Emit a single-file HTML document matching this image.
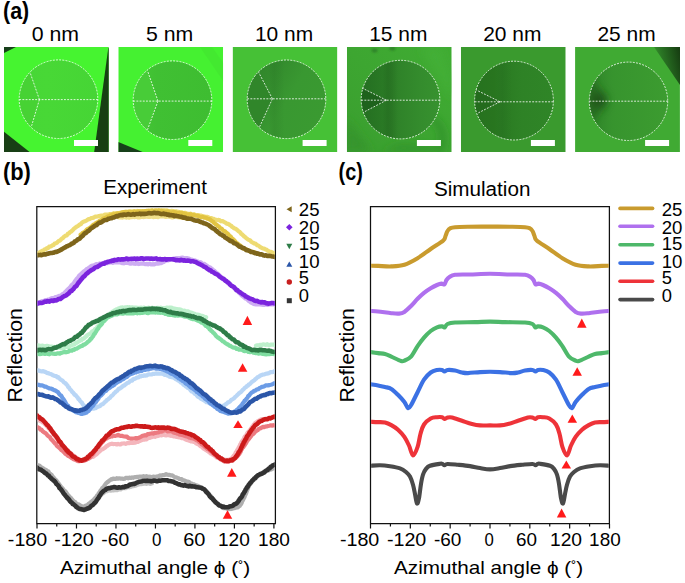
<!DOCTYPE html>
<html><head><meta charset="utf-8"><style>
html,body{margin:0;padding:0;background:#fff;width:685px;height:583px;overflow:hidden;}
body{position:relative;font-family:"Liberation Sans", sans-serif;}
text{font-family:"Liberation Sans", sans-serif;}
</style></head><body>
<svg width="685" height="583" viewBox="0 0 685 583" style="position:absolute;left:0;top:0" font-family='"Liberation Sans", sans-serif'>
<rect width="685" height="583" fill="#ffffff"/>
<defs>
<clipPath id="ic0"><rect x="4.00" y="47" width="104.80" height="105.0"/></clipPath>
<clipPath id="cc0"><circle cx="58.50" cy="99.20" r="39.30"/></clipPath>
<clipPath id="ic1"><rect x="118.30" y="47" width="104.80" height="105.0"/></clipPath>
<clipPath id="cc1"><circle cx="172.50" cy="100.20" r="39.30"/></clipPath>
<clipPath id="ic2"><rect x="232.60" y="47" width="104.80" height="105.0"/></clipPath>
<clipPath id="cc2"><circle cx="286.50" cy="99.30" r="39.30"/></clipPath>
<clipPath id="ic3"><rect x="346.90" y="47" width="104.80" height="105.0"/></clipPath>
<clipPath id="cc3"><circle cx="400.50" cy="99.60" r="39.30"/></clipPath>
<clipPath id="ic4"><rect x="460.90" y="47" width="104.80" height="105.0"/></clipPath>
<clipPath id="cc4"><circle cx="514.00" cy="100.60" r="39.40"/></clipPath>
<clipPath id="ic5"><rect x="575.10" y="47" width="104.80" height="105.0"/></clipPath>
<clipPath id="cc5"><circle cx="628.50" cy="101.30" r="39.20"/></clipPath>
<linearGradient id="in1" x1="0" y1="0" x2="1" y2="0"><stop offset="0" stop-color="#47D636" stop-opacity="1"/><stop offset="0.35" stop-color="#48D836" stop-opacity="1"/><stop offset="1" stop-color="#46D535" stop-opacity="1"/></linearGradient>
<linearGradient id="in2" x1="0" y1="0" x2="1" y2="0"><stop offset="0" stop-color="#46C837" stop-opacity="1"/><stop offset="0.3" stop-color="#40C033" stop-opacity="1"/><stop offset="1" stop-color="#3EBD31" stop-opacity="1"/></linearGradient>
<linearGradient id="in3" x1="0" y1="0" x2="1" y2="0.6"><stop offset="0" stop-color="#2E8229" stop-opacity="1"/><stop offset="0.3" stop-color="#338B2D" stop-opacity="1"/><stop offset="0.6" stop-color="#399831" stop-opacity="1"/><stop offset="1" stop-color="#3A9A31" stop-opacity="1"/></linearGradient>
<linearGradient id="in4" x1="0" y1="0" x2="1" y2="0"><stop offset="0" stop-color="#246E21" stop-opacity="1"/><stop offset="0.3" stop-color="#2A7A25" stop-opacity="1"/><stop offset="0.45" stop-color="#2F8229" stop-opacity="1"/><stop offset="0.75" stop-color="#348C2D" stop-opacity="1"/><stop offset="1" stop-color="#37922F" stop-opacity="1"/></linearGradient>
<linearGradient id="in5" x1="0" y1="0" x2="1" y2="0"><stop offset="0" stop-color="#26721F" stop-opacity="1"/><stop offset="0.25" stop-color="#28751F" stop-opacity="1"/><stop offset="0.33" stop-color="#2A7A22" stop-opacity="1"/><stop offset="0.6" stop-color="#2E8226" stop-opacity="1"/><stop offset="1" stop-color="#2F8527" stop-opacity="1"/></linearGradient>
<linearGradient id="in6" x1="0" y1="0" x2="1" y2="0"><stop offset="0" stop-color="#2F8429" stop-opacity="1"/><stop offset="0.3" stop-color="#37942E" stop-opacity="1"/><stop offset="1" stop-color="#3C9C30" stop-opacity="1"/></linearGradient>
<radialGradient id="spot6" cx="0.5" cy="0.5" r="0.5"><stop offset="0" stop-color="#1A4E17" stop-opacity="0.95"/><stop offset="0.45" stop-color="#1F5C1B" stop-opacity="0.6"/><stop offset="1" stop-color="#2A7A24" stop-opacity="0"/></radialGradient>
<linearGradient id="tr6" x1="0" y1="0.5" x2="1" y2="0.2"><stop offset="0" stop-color="#3A9A2E" stop-opacity="1"/><stop offset="0.35" stop-color="#2A7524" stop-opacity="1"/><stop offset="1" stop-color="#173F12" stop-opacity="1"/></linearGradient>
<linearGradient id="bg4" x1="0" y1="1" x2="1" y2="0"><stop offset="0" stop-color="#3A9E2F" stop-opacity="1"/><stop offset="0.5" stop-color="#3DA631" stop-opacity="1"/><stop offset="1" stop-color="#40AC33" stop-opacity="1"/></linearGradient>
<linearGradient id="band" x1="0" y1="0" x2="1" y2="0"><stop offset="0" stop-color="#1d5a1a" stop-opacity="0"/><stop offset="0.35" stop-color="#1d5a1a" stop-opacity="1"/><stop offset="0.55" stop-color="#1d5a1a" stop-opacity="0.8"/><stop offset="1" stop-color="#1d5a1a" stop-opacity="0"/></linearGradient>
<filter id="blur4" x="-50%" y="-50%" width="200%" height="200%"><feGaussianBlur stdDeviation="4"/></filter>
<filter id="blur1" x="-50%" y="-50%" width="200%" height="200%"><feGaussianBlur stdDeviation="1"/></filter>
</defs>
<g clip-path="url(#ic0)">
<rect x="4.00" y="47" width="104.80" height="105.0" fill="#46F430"/>
<polygon points="4,47 16,47 4,53" fill="#17401a"/>
<polygon points="4,131.8 29.6,152.0 4,152.0" fill="#183f15"/>
<polygon points="108.3,47.8 108.9,47.8 108.9,152.0 94.2,152.0" fill="#173f13"/>
<circle cx="58.50" cy="99.20" r="39.30" fill="url(#in1)"/>
<polygon clip-path="url(#cc0)" points="39.40,99.60 24.36,55.76 9.20,99.60 26.92,141.52" fill="#47D234"/>
<circle cx="58.50" cy="99.20" r="39.30" stroke="#ffffff" stroke-width="0.85" fill="none" stroke-dasharray="1.9 1.3" opacity="0.95"/>
<line x1="19.20" y1="99.60" x2="97.80" y2="99.60" stroke="#ffffff" stroke-width="0.85" fill="none" stroke-dasharray="1.9 1.3" opacity="0.95"/>
<line x1="39.40" y1="99.60" x2="30.00" y2="72.20" stroke="#ffffff" stroke-width="0.85" fill="none" stroke-dasharray="1.9 1.3" opacity="0.95"/>
<line x1="39.40" y1="99.60" x2="31.60" y2="125.80" stroke="#ffffff" stroke-width="0.85" fill="none" stroke-dasharray="1.9 1.3" opacity="0.95"/>
<rect x="74.00" y="140" width="24" height="6" fill="#ffffff"/>
</g>
<g clip-path="url(#ic1)">
<rect x="118.30" y="47" width="104.80" height="105.0" fill="#45F131"/>
<polygon points="118.3,141.9 142.6,152.0 118.3,152.0" fill="#17401a"/>
<polygon points="200,47 212,47 224,64 224,82" fill="#3fd62f" opacity="0.3"/>
<circle cx="172.50" cy="100.20" r="39.30" fill="url(#in2)"/>
<polygon clip-path="url(#cc1)" points="158.00,101.10 141.20,52.30 123.20,101.10 141.20,146.86" fill="#48CC38"/>
<circle cx="172.50" cy="100.20" r="39.30" stroke="#ffffff" stroke-width="0.85" fill="none" stroke-dasharray="1.9 1.3" opacity="0.95"/>
<line x1="133.20" y1="101.10" x2="211.80" y2="101.10" stroke="#ffffff" stroke-width="0.85" fill="none" stroke-dasharray="1.9 1.3" opacity="0.95"/>
<line x1="158.00" y1="101.10" x2="147.50" y2="70.60" stroke="#ffffff" stroke-width="0.85" fill="none" stroke-dasharray="1.9 1.3" opacity="0.95"/>
<line x1="158.00" y1="101.10" x2="147.50" y2="129.70" stroke="#ffffff" stroke-width="0.85" fill="none" stroke-dasharray="1.9 1.3" opacity="0.95"/>
<rect x="188.30" y="140" width="24" height="6" fill="#ffffff"/>
</g>
<g clip-path="url(#ic2)">
<rect x="232.60" y="47" width="104.80" height="105.0" fill="#46C136"/>
<circle cx="286.50" cy="99.30" r="39.30" fill="url(#in3)"/>
<polygon clip-path="url(#cc2)" points="272.40,98.80 250.32,56.24 237.20,98.80 251.92,143.60" fill="#30862A"/>
<rect clip-path="url(#cc2)" x="268.40" y="50" width="16" height="100" fill="url(#band)" opacity="0.12"/>
<circle cx="286.50" cy="99.30" r="39.30" stroke="#ffffff" stroke-width="0.85" fill="none" stroke-dasharray="1.9 1.3" opacity="0.95"/>
<line x1="247.20" y1="98.80" x2="325.80" y2="98.80" stroke="#ffffff" stroke-width="0.85" fill="none" stroke-dasharray="1.9 1.3" opacity="0.95"/>
<line x1="272.40" y1="98.80" x2="258.60" y2="72.20" stroke="#ffffff" stroke-width="0.85" fill="none" stroke-dasharray="1.9 1.3" opacity="0.95"/>
<line x1="272.40" y1="98.80" x2="259.60" y2="126.80" stroke="#ffffff" stroke-width="0.85" fill="none" stroke-dasharray="1.9 1.3" opacity="0.95"/>
<rect x="302.60" y="140" width="24" height="6" fill="#ffffff"/>
</g>
<g clip-path="url(#ic3)">
<rect x="346.90" y="47" width="104.80" height="105.0" fill="url(#bg4)"/>
<g filter="url(#blur1)"><ellipse cx="374.6" cy="50.5" rx="3" ry="2" fill="#2a7a25" opacity="0.8"/><ellipse cx="392.3" cy="48.5" rx="3" ry="2" fill="#2a7a25" opacity="0.8"/></g>
<g filter="url(#blur4)"><path d="M432,118 Q448,130 440,152" stroke="#2A7A25" stroke-width="5" fill="none" opacity="0.6"/><polygon points="346,118 346,152.0 372,152.0" fill="#34922C" opacity="0.8"/><polygon points="380,152.0 400,144 436,146 440,152.0" fill="#2F8A29" opacity="0.6"/><polygon points="420,47 440,47 452,80 452,100" fill="#45B238" opacity="0.6"/></g>
<circle cx="400.50" cy="99.60" r="39.30" fill="url(#in4)"/>
<polygon clip-path="url(#cc3)" points="386.40,100.20 347.52,80.68 351.20,100.20 349.44,119.72" fill="#1E621C"/>
<rect clip-path="url(#cc3)" x="382.40" y="50" width="16" height="100" fill="url(#band)" opacity="0.30"/>
<circle cx="400.50" cy="99.60" r="39.30" stroke="#ffffff" stroke-width="0.85" fill="none" stroke-dasharray="1.9 1.3" opacity="0.95"/>
<line x1="361.20" y1="100.20" x2="439.80" y2="100.20" stroke="#ffffff" stroke-width="0.85" fill="none" stroke-dasharray="1.9 1.3" opacity="0.95"/>
<line x1="386.40" y1="100.20" x2="362.10" y2="88.00" stroke="#ffffff" stroke-width="0.85" fill="none" stroke-dasharray="1.9 1.3" opacity="0.95"/>
<line x1="386.40" y1="100.20" x2="363.30" y2="112.40" stroke="#ffffff" stroke-width="0.85" fill="none" stroke-dasharray="1.9 1.3" opacity="0.95"/>
<rect x="416.90" y="140" width="24" height="6" fill="#ffffff"/>
</g>
<g clip-path="url(#ic4)">
<rect x="460.90" y="47" width="104.80" height="105.0" fill="#3A9A2E"/>
<circle cx="514.00" cy="100.60" r="39.40" fill="url(#in5)"/>
<polygon clip-path="url(#cc4)" points="500.00,101.80 462.08,82.92 464.60,101.80 463.68,120.36" fill="#236B1D"/>
<rect clip-path="url(#cc4)" x="496.00" y="50" width="16" height="100" fill="url(#band)" opacity="0.15"/>
<circle cx="514.00" cy="100.60" r="39.40" stroke="#ffffff" stroke-width="0.85" fill="none" stroke-dasharray="1.9 1.3" opacity="0.95"/>
<line x1="474.60" y1="101.80" x2="553.40" y2="101.80" stroke="#ffffff" stroke-width="0.85" fill="none" stroke-dasharray="1.9 1.3" opacity="0.95"/>
<line x1="500.00" y1="101.80" x2="476.30" y2="90.00" stroke="#ffffff" stroke-width="0.85" fill="none" stroke-dasharray="1.9 1.3" opacity="0.95"/>
<line x1="500.00" y1="101.80" x2="477.30" y2="113.40" stroke="#ffffff" stroke-width="0.85" fill="none" stroke-dasharray="1.9 1.3" opacity="0.95"/>
<rect x="530.90" y="140" width="24" height="6" fill="#ffffff"/>
</g>
<g clip-path="url(#ic5)">
<rect x="575.10" y="47" width="104.80" height="105.0" fill="#40AA33"/>
<polygon points="654,47 680,47 680,85" fill="url(#tr6)"/>
<circle cx="628.50" cy="101.30" r="39.20" fill="url(#in6)"/>
<g clip-path="url(#cc5)"><g filter="url(#blur4)"><polygon points="606,100 588,70 585,100 588,130" fill="#21621C" opacity="0.75"/><ellipse cx="600" cy="100.5" rx="7" ry="9" fill="#1A4E16" opacity="0.8"/></g></g>
<circle cx="628.50" cy="101.30" r="39.20" stroke="#ffffff" stroke-width="0.85" fill="none" stroke-dasharray="1.9 1.3" opacity="0.95"/>
<line x1="589.30" y1="101.20" x2="667.70" y2="101.20" stroke="#ffffff" stroke-width="0.85" fill="none" stroke-dasharray="1.9 1.3" opacity="0.95"/>
<rect x="645.10" y="140" width="24" height="6" fill="#ffffff"/>
</g>
<path d="M36.80,206.70 L275.40,206.70 L275.40,523.70 L36.80,523.70 Z" fill="none" stroke="#111111" stroke-width="1.25"/>
<path d="M370.50,206.70 L609.40,206.70 L609.40,523.70 L370.50,523.70 Z" fill="none" stroke="#111111" stroke-width="1.25"/>
<path d="M37.00,523.70 V528.50 M56.74,523.70 V526.40 M76.48,523.70 V528.50 M96.22,523.70 V526.40 M115.97,523.70 V528.50 M135.71,523.70 V526.40 M155.45,523.70 V528.50 M175.19,523.70 V526.40 M194.93,523.70 V528.50 M214.67,523.70 V526.40 M234.42,523.70 V528.50 M254.16,523.70 V526.40 M273.90,523.70 V528.50" stroke="#111111" stroke-width="1.2"/>
<path d="M370.50,523.70 V528.50 M390.42,523.70 V526.40 M410.33,523.70 V528.50 M430.25,523.70 V526.40 M450.17,523.70 V528.50 M470.08,523.70 V526.40 M490.00,523.70 V528.50 M509.92,523.70 V526.40 M529.83,523.70 V528.50 M549.75,523.70 V526.40 M569.67,523.70 V528.50 M589.58,523.70 V526.40 M609.50,523.70 V528.50" stroke="#111111" stroke-width="1.2"/>
<clipPath id="pb"><rect x="37.4" y="207.3" width="237.4" height="315.8"/></clipPath><clipPath id="pc"><rect x="371.1" y="207.3" width="237.7" height="315.8"/></clipPath>
<g fill="none" stroke-linecap="round" stroke-linejoin="round" clip-path="url(#pb)">
<path d="M118.0,217.2 L118.7,217.1 L119.5,217.5 L120.4,217.4 L121.4,217.3 L122.5,217.6 L123.7,217.1 L124.9,217.2 L126.2,217.6 L127.6,216.9 L129.0,217.7 L130.4,217.1 L131.8,217.1 L133.2,216.8 L134.5,217.1 L135.9,216.8 L137.2,217.0 L138.4,217.5 L139.5,217.4 L140.8,216.6 L142.0,216.7 L143.3,217.1 L144.5,217.0 L145.8,216.7 L147.1,216.5 L148.4,216.9 L149.6,216.9 L150.9,216.6 L152.1,216.5 L153.4,217.1 L154.6,216.8 L155.8,216.9 L156.9,216.6 L158.0,217.2 L159.1,216.6 L160.5,216.5 L161.9,216.4 L163.2,216.4 L164.5,216.5 L165.7,216.9 L166.9,216.7 L168.1,216.4 L169.2,216.7 L170.4,217.0 L171.5,217.3 L172.7,217.3 L173.8,216.7 L175.0,216.7 L176.3,216.8 L177.7,217.2 L179.2,217.4 L180.6,217.6 L182.1,217.8 L183.5,217.6 L184.9,218.2 L186.1,217.8 L187.3,217.9 L188.4,218.3 L189.3,218.7 L190.0,218.5" stroke="#F0E08A" stroke-width="4.2"/>
<path d="M37.2,253.6 L37.9,253.3 L38.7,252.5 L39.8,252.4 L40.9,251.5 L42.2,250.8 L43.4,250.5 L44.7,249.3 L46.0,249.1 L47.0,248.0 L48.0,248.1 L49.1,246.7 L50.2,246.6 L51.3,246.2 L52.4,245.3 L53.6,244.9 L54.7,243.5 L55.8,243.2 L56.9,242.8 L57.9,241.7 L58.9,240.8 L59.9,240.7 L60.9,239.6 L61.8,238.7 L62.8,238.2 L63.8,236.9 L64.8,236.2 L65.8,235.5 L66.8,235.4 L67.8,233.8 L68.8,233.5 L69.8,232.4 L70.8,231.8 L71.8,231.0 L72.8,230.0 L73.8,228.9 L74.8,228.0 L75.8,227.4 L76.8,226.5 L77.8,226.1 L78.8,225.3 L79.9,224.5 L81.0,224.0 L82.1,222.5 L83.2,221.9 L84.4,221.3 L85.5,221.1 L86.6,220.4 L87.6,219.7 L88.7,219.0 L89.7,219.1 L91.1,218.1 L92.5,217.9 L93.8,217.6 L95.1,216.7 L96.3,216.6 L97.6,216.5 L98.9,216.1 L100.2,215.8 L101.3,215.6 L102.5,215.6 L103.7,215.5 L105.0,214.6 L106.4,214.6 L108.0,214.6 L109.0,214.5 L110.1,214.0 L111.3,214.1 L112.5,213.9 L113.7,213.2 L115.0,213.6 L116.2,213.3 L117.5,213.4 L118.8,213.0 L120.1,212.8 L121.4,212.7 L122.6,212.4 L123.8,212.0 L124.9,211.8 L126.1,212.4 L127.2,212.2 L128.3,212.0 L129.4,211.4 L130.6,212.0 L131.8,211.5 L133.0,211.7 L134.3,211.2 L135.7,211.7 L137.2,211.0 L138.2,211.8 L139.4,211.2 L140.5,211.2 L141.7,211.3 L143.0,211.0 L144.2,211.2 L145.5,211.2 L146.9,210.7 L148.2,211.3 L149.5,210.8 L150.8,210.4 L152.1,210.3 L153.4,211.0 L154.6,210.9 L155.8,210.6 L157.0,211.0 L158.1,210.2 L159.1,210.2 L160.7,210.6 L162.1,210.6 L163.4,210.3 L164.6,210.4 L165.8,211.1 L166.9,210.3 L168.1,211.0 L169.3,211.0 L170.5,211.0 L171.8,210.9 L173.2,211.0 L174.3,211.4 L175.4,211.7 L176.6,211.4 L177.8,211.9 L179.0,211.9 L180.2,212.7 L181.5,212.3 L182.7,212.8 L184.0,213.3 L185.3,212.8 L186.5,213.7 L187.8,213.6 L189.0,214.1 L190.3,213.6 L191.5,214.4 L192.7,214.7 L194.0,214.1 L195.2,215.1 L196.5,215.4 L197.7,215.2 L199.0,215.3 L200.2,215.8 L201.5,215.7 L202.7,216.5 L203.9,216.4 L205.1,217.1 L206.3,216.8 L207.5,216.9 L208.6,217.4 L209.7,218.2 L211.1,218.1 L212.4,218.5 L213.7,218.8 L215.0,219.5 L216.2,219.8 L217.4,220.2 L218.7,219.9 L219.8,220.3 L221.0,221.3 L222.1,221.1 L223.2,221.4 L224.3,222.1 L225.5,222.6 L226.7,223.7 L227.9,223.9 L229.0,224.2 L230.0,225.2 L231.1,225.6 L232.1,226.9 L233.2,227.5 L234.2,228.3 L235.3,228.7 L236.3,229.2 L237.3,230.1 L238.3,231.1 L239.3,231.6 L240.3,232.5 L241.2,233.9 L242.2,234.4 L243.2,235.4 L244.2,236.5 L245.2,237.1 L246.2,238.2 L247.2,238.8 L248.2,239.6 L249.2,240.0 L250.2,240.4 L251.2,241.7 L252.2,242.4 L253.2,242.8 L254.2,243.5 L255.2,243.5 L256.2,244.3 L257.2,245.3 L258.3,245.5 L259.5,246.5 L260.6,247.3 L261.8,247.9 L262.9,248.5 L264.0,248.5 L265.1,249.3 L266.2,249.5 L267.2,250.3 L268.1,250.8 L269.6,251.7 L271.0,251.8 L272.2,252.4 L273.4,252.9 L274.3,253.3 L275.0,253.6" stroke="#EEDB72" stroke-width="4.2"/>
<path d="M80.6,234.7 L81.2,234.4 L81.8,234.1 L82.6,232.9 L83.5,232.6 L84.5,231.9 L85.5,231.1 L86.6,229.8 L87.8,228.9 L88.9,228.7 L90.1,227.7 L91.2,226.7 L92.3,225.9 L93.4,224.6 L94.4,224.6 L95.4,223.4 L96.4,223.0 L97.4,222.3 L98.5,221.8 L99.5,220.9 L100.6,220.3 L101.6,220.1 L102.7,219.0 L103.8,218.5 L104.8,218.1 L105.9,217.8 L107.0,217.0 L108.0,216.3 L109.2,216.0 L110.4,215.3 L111.7,215.4 L112.9,214.3 L114.1,214.3 L115.3,214.1 L116.5,213.7 L117.7,213.3 L118.9,213.6 L120.2,213.2 L121.4,212.7 L122.6,212.3 L123.8,212.0 L125.0,212.1 L126.1,211.7 L127.2,211.9 L128.3,211.8 L129.4,211.9 L130.6,211.7 L131.8,212.0 L133.0,211.8 L134.3,211.6 L135.7,212.1 L137.2,212.2 L138.2,211.3 L139.3,211.9 L140.4,211.5 L141.5,211.5 L142.6,211.3 L143.8,211.7 L145.0,211.2 L146.2,211.1 L147.4,211.0 L148.7,210.7 L150.0,211.5 L151.2,211.4 L152.5,210.6 L153.8,211.1 L155.1,210.5 L156.4,210.7 L157.7,211.2 L159.0,210.6 L160.2,211.1 L161.4,210.7 L162.7,211.3 L163.9,211.4 L165.2,211.8 L166.5,211.5 L167.9,211.3 L169.2,212.1 L170.5,212.3 L171.9,212.3 L173.2,212.1 L174.5,212.0 L175.8,212.4 L177.1,213.1 L178.3,213.0 L179.5,212.9 L180.7,212.9 L181.9,213.0 L182.9,213.4 L184.0,213.4 L185.5,214.1 L187.0,214.4 L188.4,214.6 L189.8,214.3 L191.1,214.3 L192.3,215.0 L193.5,215.1 L194.7,215.3 L195.8,215.7 L196.9,215.6 L198.0,215.8 L199.0,216.4 L200.0,216.7 L201.5,217.1 L202.9,216.9 L204.2,217.7 L205.4,217.6 L206.6,218.2 L207.7,218.8 L208.8,219.1 L210.0,219.4 L211.0,220.5 L212.0,221.1 L213.0,221.6 L214.0,222.9 L215.0,223.7 L216.0,224.5 L216.9,225.1 L217.9,226.1 L218.9,226.5 L219.9,227.9 L220.9,228.5 L221.9,229.0 L222.9,230.4 L223.9,231.1 L225.0,231.4 L226.0,232.3 L227.0,233.1 L228.0,233.9 L228.9,235.2 L229.8,236.3 L230.7,236.5 L231.6,238.1 L232.6,238.7 L233.5,239.8 L234.4,240.3 L235.3,241.7 L236.2,242.6 L237.1,243.2 L238.1,243.9 L239.1,244.9 L240.1,245.5 L241.1,246.2 L242.1,247.5 L243.1,248.2 L244.1,248.5 L245.2,249.3 L246.2,249.4 L247.5,250.1 L248.8,250.7 L250.3,251.2 L251.7,251.8 L253.0,252.2 L254.2,252.1 L255.2,252.8 L256.0,253.0" stroke="#E2C442" stroke-width="4.2"/>
<path d="M37.2,255.1 L38.0,255.1 L39.0,255.1 L40.2,254.9 L41.6,255.1 L43.1,254.6 L44.6,254.3 L46.0,254.4 L47.1,253.7 L48.3,253.6 L49.5,253.2 L50.7,253.0 L51.9,253.0 L53.2,252.8 L54.4,252.3 L55.7,251.9 L56.9,251.9 L58.0,251.2 L59.1,250.8 L60.2,250.2 L61.3,249.7 L62.3,248.9 L63.4,248.3 L64.5,247.7 L65.6,247.2 L66.7,246.3 L67.8,246.0 L68.8,245.4 L69.8,245.1 L70.8,244.4 L71.8,243.6 L72.8,243.4 L73.8,242.8 L74.8,241.4 L75.8,241.1 L76.8,240.4 L77.8,239.3 L78.8,239.2 L79.8,238.5 L80.8,237.3 L81.8,236.3 L82.8,235.9 L83.8,234.3 L84.7,233.4 L85.7,233.0 L86.7,232.3 L87.7,231.2 L88.7,230.8 L89.7,229.9 L90.7,228.6 L91.7,228.0 L92.7,227.3 L93.7,226.7 L94.7,225.8 L95.7,225.4 L96.7,225.0 L97.7,223.8 L98.7,223.1 L99.7,222.5 L100.7,222.7 L101.9,221.8 L103.1,221.0 L104.3,220.3 L105.5,220.1 L106.8,219.9 L108.0,218.9 L109.2,218.8 L110.4,218.2 L111.6,218.2 L112.8,217.5 L114.0,217.4 L115.1,216.9 L116.3,216.1 L117.5,216.4 L118.7,215.6 L119.9,215.3 L121.2,214.9 L122.6,215.2 L123.7,214.5 L124.8,214.6 L125.9,214.9 L127.1,214.6 L128.3,214.1 L129.5,214.6 L130.7,214.8 L132.0,214.5 L133.2,214.1 L134.5,214.6 L135.9,214.0 L137.2,214.0 L138.4,214.0 L139.6,213.5 L140.9,214.2 L142.1,213.7 L143.5,213.9 L144.8,213.9 L146.1,213.8 L147.4,213.5 L148.7,213.1 L150.1,213.3 L151.3,213.5 L152.6,213.3 L153.8,212.8 L155.0,212.9 L156.3,213.2 L157.6,213.0 L158.9,213.2 L160.1,213.8 L161.3,214.1 L162.5,213.9 L163.7,213.6 L164.9,214.1 L166.0,214.0 L167.2,214.6 L168.4,214.5 L169.6,215.3 L170.8,215.0 L172.0,215.4 L173.2,215.4 L174.5,216.1 L175.7,215.8 L176.9,216.1 L178.1,216.3 L179.3,216.6 L180.5,216.8 L181.8,216.9 L183.0,217.7 L184.2,217.5 L185.4,217.8 L186.7,218.6 L187.9,218.6 L189.2,218.8 L190.5,218.8 L191.7,219.1 L193.0,219.6 L194.2,220.2 L195.4,220.4 L196.6,220.7 L197.7,220.6 L198.8,221.2 L200.2,221.8 L201.5,222.2 L202.7,222.5 L203.9,223.3 L205.1,223.6 L206.2,223.9 L207.3,224.5 L208.5,225.0 L209.7,226.0 L210.7,226.7 L211.7,227.6 L212.7,228.3 L213.7,228.8 L214.7,229.1 L215.7,230.5 L216.7,231.0 L217.7,232.0 L218.7,232.6 L219.7,233.7 L220.7,234.5 L221.8,234.7 L222.9,235.7 L224.0,236.2 L225.1,237.6 L226.1,237.9 L227.2,238.9 L228.3,239.3 L229.4,240.4 L230.5,241.2 L231.6,241.1 L232.7,241.8 L233.8,243.2 L234.9,243.2 L236.0,243.9 L237.1,244.5 L238.2,245.6 L239.3,246.6 L240.4,246.5 L241.5,247.4 L242.6,248.2 L243.8,248.1 L245.0,249.1 L246.2,250.1 L247.4,250.0 L248.7,250.7 L249.9,251.2 L251.1,251.9 L252.3,252.0 L253.5,252.4 L254.7,253.2 L255.9,253.0 L257.2,253.8 L258.4,253.6 L259.6,254.4 L260.9,254.3 L262.1,254.6 L263.3,255.3 L264.5,255.6 L265.9,255.2 L267.4,256.0 L268.9,255.7 L270.4,256.0 L271.9,256.4 L273.1,256.6 L274.2,256.8 L275.0,257.0" stroke="#7E651B" stroke-width="4.6"/>
<path d="M37.2,303.2 L37.9,303.1 L38.9,302.5 L40.0,302.4 L41.2,301.5 L42.6,301.0 L44.0,301.0 L45.5,300.0 L46.9,300.0 L48.3,299.6 L49.6,299.4 L50.8,298.6 L51.9,298.0 L53.1,298.0 L54.3,297.8 L55.5,297.1 L56.7,296.8 L57.9,296.4 L59.0,295.9 L60.2,295.9 L61.3,295.3 L62.4,294.1 L63.4,293.7 L64.3,293.1 L65.3,292.1 L66.2,291.0 L67.2,290.1 L68.1,289.1 L69.0,288.5 L69.9,287.5 L70.7,286.6 L71.6,285.0 L72.5,284.5 L73.3,283.7 L74.2,282.6 L75.0,281.0 L75.8,280.3 L76.6,278.9 L77.3,278.2 L78.1,277.6 L78.9,276.0 L79.7,275.2 L80.5,274.3 L81.4,273.8 L82.4,272.8 L83.3,271.8 L84.3,271.1 L85.3,270.5 L86.3,269.5 L87.3,268.7 L88.3,268.4 L89.4,267.4 L90.5,266.6 L91.7,265.8 L92.8,265.5 L94.0,265.2 L95.2,264.8 L96.3,264.1 L97.5,264.4 L98.7,264.1 L99.9,263.4 L101.2,263.8 L102.4,263.5 L103.7,262.8 L105.0,262.7 L106.3,263.2 L107.6,263.1 L108.9,262.8 L110.3,262.4 L111.6,262.3 L112.8,262.8 L113.9,262.3 L115.1,262.3 L116.3,262.2 L117.6,262.5 L118.8,262.5 L120.0,262.4 L121.3,262.9 L122.5,263.1 L123.7,263.3 L125.0,262.6 L126.2,263.0 L127.5,263.0 L128.7,263.1 L129.9,263.6 L131.1,263.6 L132.4,263.0 L133.7,263.6 L134.9,263.8 L136.2,263.7 L137.5,263.7 L138.8,264.1 L140.1,263.7 L141.3,263.6 L142.6,263.5 L143.8,263.7 L144.9,264.1 L146.0,264.2 L147.1,263.9 L148.1,264.4 L149.6,263.6 L151.0,264.3 L152.3,264.3 L153.5,264.2 L154.6,264.4 L155.7,263.6 L156.8,263.7 L157.9,263.7 L159.1,263.5 L160.3,263.1 L161.4,263.1 L162.6,262.2 L163.7,261.9 L164.8,261.2 L165.9,260.6 L167.1,260.3 L168.3,260.4 L169.6,259.8 L170.8,259.2 L172.0,259.2 L173.3,258.6 L174.6,258.6 L175.9,258.2 L177.2,258.0 L178.5,258.0 L179.8,258.0 L181.1,257.8 L182.4,257.6 L183.7,258.0 L184.9,258.4 L186.2,258.2 L187.5,258.2 L188.8,258.5 L190.0,259.3 L191.3,259.5 L192.6,260.0 L193.8,260.6 L195.1,260.4 L196.3,261.4 L197.4,261.3 L198.6,262.0 L199.8,262.2 L201.0,262.3 L202.1,263.6 L203.3,264.1 L204.5,263.9 L205.6,265.0 L206.8,265.6 L207.9,266.5 L208.9,267.1 L209.8,267.3 L210.8,268.0 L211.7,268.8 L212.7,269.5 L213.7,270.8 L214.6,270.9 L215.5,272.1 L216.5,273.1 L217.4,273.5 L218.3,274.2 L219.1,275.3 L220.0,275.7 L221.1,277.2 L222.1,277.5 L223.1,278.3 L224.1,278.8 L225.1,279.9 L226.0,281.0 L227.0,281.7 L228.0,282.2 L229.0,283.3 L230.0,283.7 L230.9,284.8 L231.7,285.4 L232.6,286.1 L233.5,287.6 L234.3,288.2 L235.2,289.2 L236.1,290.5 L237.0,291.0 L237.9,291.7 L238.9,292.5 L239.8,293.5 L240.8,294.4 L241.7,295.6 L242.7,296.1 L243.6,296.9 L244.6,297.8 L245.6,298.6 L246.6,298.9 L247.6,299.8 L248.7,300.9 L249.7,301.4 L250.6,302.3 L251.6,302.8 L252.6,303.2 L253.5,303.9 L254.8,304.2 L256.1,304.4 L257.3,304.2 L258.5,304.4 L259.7,304.2 L260.9,304.6 L262.1,304.5 L263.3,304.9 L264.5,304.9 L265.9,304.2 L267.4,305.0 L268.9,304.5 L270.4,304.3 L271.9,304.2 L273.1,304.5 L274.2,304.1 L275.0,304.5" stroke="#CDADF2" stroke-width="4.2"/>
<path d="M37.2,303.8 L38.0,303.0 L39.0,303.2 L40.2,302.7 L41.6,303.0 L43.1,302.6 L44.6,301.6 L46.0,301.8 L47.1,301.1 L48.3,301.2 L49.5,301.6 L50.8,300.8 L52.1,300.6 L53.3,301.0 L54.6,300.2 L55.8,300.5 L56.9,300.3 L58.1,299.3 L59.3,298.9 L60.4,299.0 L61.6,298.0 L62.7,297.0 L63.8,296.4 L64.9,295.9 L66.0,295.6 L66.9,294.8 L67.8,293.9 L68.7,293.4 L69.6,292.4 L70.5,291.2 L71.5,291.0 L72.4,289.8 L73.3,289.3 L74.2,287.9 L75.1,286.8 L75.9,286.4 L76.8,285.5 L77.6,284.0 L78.4,282.9 L79.3,281.9 L80.1,280.9 L81.0,279.7 L81.8,278.8 L82.6,277.8 L83.5,276.7 L84.3,276.4 L85.3,275.1 L86.3,273.9 L87.3,273.3 L88.3,272.3 L89.2,271.6 L90.2,271.0 L91.3,270.1 L92.3,269.7 L93.4,269.2 L94.4,268.1 L95.4,267.4 L96.5,267.1 L97.5,266.9 L98.6,266.0 L99.7,265.4 L100.8,264.5 L102.0,264.1 L103.1,263.5 L104.3,263.8 L105.4,262.5 L106.5,262.4 L107.6,261.8 L108.7,261.7 L109.8,261.3 L110.9,261.2 L112.1,260.5 L113.3,260.8 L114.5,259.9 L115.8,260.1 L117.1,259.9 L118.2,259.2 L119.4,259.4 L120.5,259.6 L121.7,259.2 L122.9,259.5 L124.1,259.2 L125.4,258.9 L126.7,258.5 L128.0,259.2 L129.3,259.0 L130.7,258.9 L132.1,258.7 L133.5,258.7 L134.6,258.5 L135.8,259.1 L137.0,258.6 L138.3,258.9 L139.6,258.8 L140.8,258.3 L142.2,258.3 L143.5,259.1 L144.8,258.7 L146.1,258.5 L147.5,258.5 L148.8,258.5 L150.1,258.7 L151.3,258.5 L152.6,258.9 L153.8,258.7 L155.0,258.6 L156.3,258.4 L157.6,259.2 L158.9,259.3 L160.2,259.1 L161.4,259.4 L162.7,259.2 L163.9,259.4 L165.1,259.0 L166.3,259.7 L167.5,259.3 L168.7,259.2 L169.8,259.2 L171.0,259.3 L172.1,259.3 L173.2,259.4 L174.6,259.6 L175.9,260.2 L177.2,260.1 L178.5,260.2 L179.8,260.4 L181.1,259.7 L182.3,260.3 L183.5,260.6 L184.6,260.3 L185.7,260.8 L186.8,260.8 L187.8,260.6 L189.4,260.7 L190.8,261.4 L192.1,261.3 L193.3,261.2 L194.5,261.8 L195.7,262.0 L197.0,262.8 L198.1,263.4 L199.3,264.0 L200.4,264.4 L201.6,265.1 L202.7,265.6 L203.8,266.6 L205.0,267.0 L206.1,267.6 L207.2,268.8 L208.4,269.4 L209.5,270.3 L210.6,270.3 L211.8,271.7 L212.9,272.1 L214.1,272.8 L215.2,273.6 L216.2,274.0 L217.2,274.5 L218.2,275.1 L219.2,276.2 L220.2,277.1 L221.3,277.7 L222.3,278.5 L223.3,278.8 L224.3,279.6 L225.3,280.7 L226.3,280.9 L227.4,282.3 L228.4,282.6 L229.4,283.9 L230.4,285.0 L231.5,285.8 L232.5,286.2 L233.5,286.7 L234.5,287.7 L235.5,288.8 L236.5,290.0 L237.5,290.3 L238.4,291.4 L239.4,291.8 L240.5,292.8 L241.5,293.3 L242.6,294.2 L243.6,294.7 L244.7,295.3 L245.7,296.6 L246.8,296.8 L247.9,297.4 L249.0,298.3 L250.2,298.6 L251.3,299.0 L252.4,299.2 L253.5,300.0 L254.7,300.6 L255.9,301.0 L257.2,300.9 L258.4,301.7 L259.6,301.9 L260.9,302.4 L262.1,302.1 L263.3,302.4 L264.5,302.2 L265.9,303.2 L267.4,303.4 L268.9,303.6 L270.4,303.2 L271.9,302.9 L273.1,303.1 L274.2,303.3 L275.0,303.5" stroke="#7B24DE" stroke-width="4.6"/>
<path d="M37.2,345.3 L37.9,345.3 L38.9,345.5 L40.0,345.9 L41.2,345.8 L42.6,345.6 L44.0,346.3 L45.5,346.2 L46.9,345.9 L48.3,346.1 L49.6,346.8 L50.9,346.5 L52.1,346.6 L53.4,347.3 L54.7,346.9 L56.0,347.4 L57.3,348.0 L58.6,347.7 L59.8,347.7 L61.1,347.8 L62.4,347.6 L63.6,348.0 L64.7,347.8 L65.9,346.8 L67.1,346.7 L68.3,346.9 L69.4,346.3 L70.6,345.7 L71.8,345.0 L72.9,344.6 L74.0,344.6 L75.1,343.8 L76.2,342.8 L77.2,342.6 L78.3,341.7 L79.3,341.2 L80.3,340.4 L81.3,340.2 L82.3,338.9 L83.3,338.8 L84.2,338.1 L85.2,337.2 L86.1,336.4 L87.2,335.3 L88.2,334.6 L89.3,334.0 L90.3,333.7 L91.3,332.5 L92.2,331.4 L93.2,331.1 L94.2,330.5 L95.2,329.0 L96.0,328.7 L96.8,327.7 L97.6,326.5 L98.4,326.1 L99.2,324.5 L100.0,323.9 L100.9,323.0 L101.7,321.6 L102.5,321.0 L103.4,320.2 L104.3,319.1 L105.2,317.9 L106.2,317.1 L107.2,316.5 L108.2,315.7 L109.2,314.7 L110.2,313.3 L111.2,312.7 L112.3,311.7 L113.3,311.4 L114.3,310.4 L115.3,310.1 L116.5,309.2 L117.7,309.0 L118.8,308.3 L120.0,308.0 L121.2,307.5 L122.4,307.4 L123.6,307.9 L124.9,307.3 L126.2,307.3 L127.3,307.2 L128.5,307.3 L129.7,307.2 L131.0,307.5 L132.2,307.3 L133.5,307.5 L134.8,307.5 L136.1,307.6 L137.4,307.8 L138.7,308.1 L140.0,307.8 L141.2,307.7 L142.4,308.2 L143.6,307.6 L144.8,308.0 L146.0,308.0 L147.2,308.1 L148.5,307.7 L149.7,308.1 L151.0,308.2 L152.3,307.7 L153.6,308.6 L155.0,308.0 L156.1,308.0 L157.3,307.9 L158.4,307.9 L159.6,308.3 L160.8,307.7 L162.0,308.3 L163.3,308.0 L164.5,308.2 L165.8,308.0 L167.0,307.6 L168.3,307.8 L169.5,307.6 L170.7,307.6 L172.0,307.9 L173.2,308.6 L174.4,308.5 L175.7,308.9 L176.9,309.2 L178.2,309.4 L179.4,309.4 L180.7,309.5 L181.9,310.4 L183.2,310.8 L184.4,310.6 L185.7,311.4 L186.9,311.3 L188.1,311.4 L189.2,312.0 L190.4,312.8 L191.5,312.7 L192.9,313.3 L194.3,313.7 L195.8,314.5 L197.2,314.5 L198.6,314.8 L199.9,315.2 L201.2,316.0 L202.5,315.8 L203.6,316.3 L204.6,317.2 L205.4,317.0 L206.1,317.3" stroke="#BDF0CC" stroke-width="4.2"/>
<path d="M256.0,345.7 L256.7,345.4 L257.6,345.6 L258.8,345.2 L260.3,344.8 L262.0,344.9 L263.1,344.3 L264.4,344.5 L265.8,344.9 L267.3,344.2 L268.9,345.2 L270.4,344.7 L271.8,344.7 L273.1,344.5 L274.2,344.8 L275.0,344.9" stroke="#BDF0CC" stroke-width="4.2"/>
<path d="M37.2,354.2 L37.9,354.2 L38.8,353.5 L39.9,354.1 L41.0,354.0 L42.3,353.6 L43.7,353.6 L45.1,353.9 L46.6,353.5 L48.0,353.9 L49.4,354.3 L50.8,353.5 L52.0,353.4 L53.2,353.7 L54.6,353.9 L56.0,353.9 L57.3,353.3 L58.6,353.4 L59.8,353.6 L61.0,352.9 L62.3,352.6 L63.5,352.2 L64.7,351.9 L66.0,352.3 L67.2,352.0 L68.4,351.7 L69.5,350.6 L70.7,350.7 L71.9,350.7 L73.1,349.6 L74.3,349.8 L75.4,348.8 L76.6,348.7 L77.7,348.0 L78.8,347.3 L80.0,346.7 L81.1,346.1 L82.3,346.0 L83.4,344.6 L84.5,344.7 L85.6,343.8 L86.6,343.1 L87.7,341.8 L88.7,341.3 L89.7,340.4 L90.5,339.0 L91.2,338.7 L91.9,337.7 L92.7,336.7 L93.4,335.7 L94.1,334.1 L94.8,333.7 L95.4,332.6 L96.1,331.6 L96.8,330.3 L97.5,329.1 L98.2,328.7 L98.9,327.0 L99.7,326.1 L100.5,325.4 L101.3,324.6 L102.1,323.7 L102.9,321.9 L103.7,321.2 L104.6,320.8 L105.4,319.2 L106.2,318.9 L107.1,317.7 L108.0,317.2 L109.1,316.9 L110.2,316.4 L111.4,315.9 L112.5,315.4 L113.7,314.5 L114.9,314.3 L116.2,314.2 L117.5,314.3 L118.9,313.4 L120.0,313.5 L121.1,313.0 L122.3,313.6 L123.5,313.6 L124.7,313.1 L126.0,312.9 L127.2,313.5 L128.5,312.9 L129.8,313.5 L131.0,313.3 L132.3,313.4 L133.5,313.4 L134.7,312.7 L136.0,313.0 L137.2,313.3 L138.5,312.6 L139.8,313.2 L141.0,312.5 L142.3,312.9 L143.5,312.7 L144.7,312.5 L145.9,312.4 L147.0,313.0 L148.1,313.2 L149.5,312.5 L150.8,312.4 L152.1,312.4 L153.3,312.5 L154.4,312.5 L155.6,312.6 L156.8,312.1 L157.9,312.7 L159.1,312.2 L160.4,312.8 L161.7,312.5 L162.9,313.0 L164.1,313.0 L165.4,314.0 L166.7,313.8 L168.1,314.7 L169.6,315.0 L170.7,314.7 L171.8,314.8 L173.0,315.2 L174.2,315.4 L175.4,315.7 L176.6,314.9 L177.9,315.7 L179.2,315.5 L180.5,315.5 L181.7,315.5 L183.0,316.0 L184.2,316.4 L185.4,316.7 L186.7,316.6 L188.0,317.2 L189.3,317.8 L190.6,318.4 L191.8,318.8 L193.1,319.2 L194.3,318.8 L195.5,319.5 L196.7,320.1 L197.8,320.8 L198.8,321.0 L200.1,321.5 L201.2,322.6 L202.2,322.6 L203.2,323.2 L204.2,324.0 L205.1,325.0 L206.0,326.0 L206.9,326.2 L207.9,327.4 L208.8,327.8 L209.7,329.3 L210.6,329.8 L211.4,331.0 L212.3,331.5 L213.2,332.7 L214.1,333.3 L215.1,334.5 L216.0,335.9 L217.0,336.8 L217.9,337.5 L218.9,338.0 L219.9,338.9 L220.9,339.5 L221.9,340.5 L222.9,341.4 L223.9,341.8 L224.9,342.7 L226.0,343.4 L227.0,344.3 L228.0,344.4 L229.2,345.6 L230.4,345.9 L231.7,346.7 L232.9,347.4 L234.1,347.6 L235.3,347.7 L236.6,348.9 L237.8,348.5 L239.0,349.6 L240.2,349.5 L241.4,349.6 L242.5,350.1 L243.6,350.9 L244.8,351.1 L246.0,351.0 L247.2,351.0 L248.5,352.0 L249.9,352.1 L251.0,351.9 L252.2,352.0 L253.4,352.7 L254.6,352.8 L255.9,353.2 L257.2,353.0 L258.5,353.7 L259.8,353.3 L261.1,353.4 L262.3,353.9 L263.4,353.5 L264.5,354.2 L266.1,354.3 L267.7,354.1 L269.2,354.2 L270.7,353.9 L272.0,353.7 L273.2,354.0 L274.2,354.1 L275.0,353.8" stroke="#7FDDA0" stroke-width="4.2"/>
<path d="M37.2,350.5 L38.0,350.3 L38.9,349.7 L40.1,349.7 L41.4,350.2 L42.8,349.7 L44.3,350.1 L45.7,350.1 L47.1,349.5 L48.4,349.1 L49.6,349.2 L51.1,349.3 L52.4,348.8 L53.7,348.1 L55.0,347.5 L56.2,347.6 L57.4,346.8 L58.7,346.4 L59.8,346.0 L61.0,345.1 L62.1,344.7 L63.2,344.1 L64.4,344.3 L65.5,343.5 L66.7,342.3 L67.8,341.8 L69.0,341.0 L70.1,340.8 L71.3,340.0 L72.5,339.5 L73.7,338.9 L74.8,337.5 L75.9,336.8 L77.0,336.7 L78.0,335.5 L79.0,334.8 L80.0,334.2 L81.0,332.9 L81.9,332.7 L82.8,331.2 L83.6,330.7 L84.3,329.7 L85.3,328.4 L86.0,327.3 L86.7,327.0 L87.9,325.9 L88.8,324.7 L89.7,324.6 L90.8,323.9 L92.0,322.9 L93.2,322.4 L94.5,322.0 L95.7,321.4 L97.0,320.7 L98.0,320.8 L99.1,319.9 L100.2,319.0 L101.3,318.5 L102.4,318.0 L103.5,317.4 L104.6,316.9 L105.8,316.3 L106.9,315.7 L108.0,315.1 L109.2,315.0 L110.4,314.3 L111.5,314.3 L112.6,313.2 L113.8,313.0 L115.0,313.0 L116.2,312.4 L117.5,312.0 L118.9,312.2 L120.0,311.4 L121.1,311.6 L122.3,311.1 L123.5,310.9 L124.7,311.3 L126.0,310.8 L127.2,310.6 L128.5,310.3 L129.8,310.0 L131.0,310.3 L132.3,309.9 L133.5,309.9 L134.7,309.9 L136.0,310.1 L137.2,309.9 L138.5,309.5 L139.8,309.7 L141.0,309.5 L142.3,309.7 L143.5,309.5 L144.7,309.0 L145.9,309.1 L147.0,309.0 L148.1,309.0 L149.5,308.9 L150.8,309.3 L152.1,308.6 L153.3,308.9 L154.4,308.7 L155.6,309.1 L156.8,308.7 L157.9,309.3 L159.1,309.1 L160.3,309.8 L161.4,309.5 L162.5,309.9 L163.6,310.3 L164.7,310.2 L165.8,310.7 L167.0,311.3 L168.3,311.7 L169.6,312.1 L170.7,311.8 L171.8,312.6 L173.0,312.9 L174.2,312.9 L175.4,313.3 L176.6,313.4 L177.9,313.4 L179.2,314.0 L180.5,313.8 L181.7,314.1 L183.0,314.1 L184.2,315.0 L185.4,314.8 L186.7,315.4 L187.9,315.3 L189.2,315.9 L190.5,315.8 L191.7,316.6 L193.0,316.4 L194.2,316.9 L195.4,317.2 L196.6,317.9 L197.7,318.2 L198.8,318.1 L200.0,318.2 L201.2,319.1 L202.3,319.3 L203.4,320.7 L204.5,320.6 L205.5,321.6 L206.5,321.9 L207.6,322.9 L208.6,323.2 L209.7,323.5 L210.8,324.3 L211.9,324.6 L213.0,325.4 L214.1,325.5 L215.2,325.9 L216.3,326.9 L217.4,327.4 L218.5,328.1 L219.6,328.2 L220.7,329.3 L221.7,329.8 L222.7,330.6 L223.7,331.9 L224.7,332.3 L225.7,333.1 L226.6,334.2 L227.6,335.3 L228.6,335.5 L229.6,337.0 L230.6,337.4 L231.6,338.6 L232.6,339.2 L233.6,339.4 L234.6,340.5 L235.6,341.6 L236.6,342.3 L237.6,342.2 L238.6,342.8 L239.6,343.8 L240.6,344.5 L241.6,344.8 L242.6,345.2 L243.8,346.7 L245.0,346.6 L246.2,347.6 L247.4,348.0 L248.7,348.4 L249.9,348.9 L251.1,349.6 L252.3,350.1 L253.5,349.9 L254.7,349.9 L255.9,350.3 L257.2,350.2 L258.4,350.4 L259.6,349.9 L260.9,349.8 L262.1,350.1 L263.3,350.2 L264.5,350.2 L265.9,350.5 L267.4,350.7 L268.9,350.6 L270.4,350.9 L271.9,351.5 L273.1,351.7 L274.2,352.0 L275.0,352.0" stroke="#2E7C48" stroke-width="4.6"/>
<path d="M37.2,370.6 L38.0,370.4 L39.1,370.5 L40.3,371.2 L41.7,371.3 L43.2,371.2 L44.7,371.8 L46.0,372.3 L47.1,373.1 L48.3,373.1 L49.5,373.8 L50.6,374.0 L51.8,374.4 L52.9,375.3 L54.0,375.6 L55.1,376.0 L56.2,376.1 L57.3,377.5 L58.3,377.2 L59.2,378.3 L60.2,379.2 L61.3,379.9 L62.4,380.6 L63.2,381.4 L63.9,382.4 L64.8,382.8 L65.6,383.4 L66.4,384.4 L67.3,385.2 L68.1,386.9 L69.0,387.5 L69.8,389.1 L70.7,389.8 L71.5,390.8 L72.3,392.0 L73.2,392.7 L74.1,394.0 L75.0,395.0 L75.8,395.3 L76.7,396.7 L77.6,397.4 L78.4,399.0 L79.2,399.4 L79.9,400.6 L80.6,401.6 L81.7,402.4 L82.6,404.0 L83.5,405.2 L84.3,405.7 L85.1,407.1 L86.1,407.9 L87.2,407.9 L88.4,407.9 L89.7,408.2 L91.0,408.4 L92.2,408.4 L93.4,408.7 L94.7,408.2 L95.9,408.1 L97.1,406.9 L98.5,406.6 L100.0,406.0 L100.9,405.0 L101.8,404.3 L102.8,404.1 L103.8,403.2 L104.8,402.0 L105.8,401.4 L106.9,400.0 L107.9,399.6 L109.0,398.4 L110.0,397.9 L110.9,396.6 L111.8,395.7 L112.6,395.3 L113.4,394.3 L114.3,393.1 L115.1,392.5 L116.0,391.5 L116.9,391.0 L117.9,389.9 L118.9,388.7 L120.0,388.4 L120.9,387.8 L121.9,387.0 L123.0,385.8 L124.1,385.6 L125.2,384.6 L126.4,383.7 L127.5,382.8 L128.7,382.7 L129.8,381.3 L131.0,380.7 L132.1,380.6 L133.1,379.3 L134.1,378.9 L135.0,378.7 L136.4,377.9 L137.6,377.3 L138.7,377.4 L139.8,376.2 L140.8,376.4 L141.9,375.7 L143.1,375.9 L144.5,375.3 L145.6,375.6 L146.7,375.5 L148.0,374.6 L149.3,374.4 L150.6,374.5 L152.0,374.3 L153.3,373.8 L154.6,373.8 L155.9,373.4 L157.1,373.7 L158.1,373.4 L159.1,373.7 L160.9,373.4 L162.2,373.6 L163.3,373.9 L164.5,374.9 L166.0,374.9 L167.0,375.4 L168.2,375.7 L169.3,376.6 L170.6,376.8 L171.8,377.2 L173.1,377.4 L174.4,378.0 L175.7,379.0 L176.9,379.6 L177.9,380.4 L178.9,380.9 L179.9,381.7 L180.9,382.5 L181.8,382.8 L182.8,384.0 L183.8,384.9 L184.8,385.5 L185.8,386.4 L186.8,386.9 L187.8,387.9 L188.8,388.3 L189.8,389.1 L190.8,390.7 L191.8,391.5 L192.8,391.8 L193.8,392.6 L194.8,393.8 L195.8,394.2 L196.8,395.5 L197.8,396.7 L198.8,397.2 L199.9,397.6 L201.0,398.9 L202.1,399.3 L203.2,400.0 L204.3,400.6 L205.3,401.1 L206.4,402.2 L207.5,402.1 L208.6,402.9 L209.7,403.5 L211.0,404.0 L212.3,404.6 L213.6,405.0 L214.9,405.1 L216.3,405.1 L217.5,405.8 L218.7,405.5 L219.8,405.6 L220.7,406.2 L222.5,405.9 L223.5,405.8 L225.0,404.9 L225.9,404.1 L226.8,403.6 L227.9,402.4 L229.0,402.1 L230.2,401.2 L231.3,399.9 L232.5,399.2 L233.6,398.5 L234.6,397.8 L235.5,396.6 L236.5,395.9 L237.4,394.9 L238.4,394.0 L239.3,393.0 L240.3,392.4 L241.2,391.9 L242.2,390.5 L243.1,389.6 L244.1,388.7 L245.0,387.7 L246.0,387.2 L246.9,386.0 L247.9,385.8 L248.8,384.5 L249.8,384.2 L250.7,383.2 L251.7,382.0 L252.6,381.4 L253.6,380.8 L254.5,380.1 L255.5,379.0 L256.4,378.4 L257.4,377.3 L258.3,377.0 L259.3,376.4 L260.5,375.5 L261.8,375.0 L263.1,374.5 L264.3,374.5 L265.6,373.8 L266.8,373.6 L267.9,373.4 L269.3,372.9 L270.6,372.2 L272.0,372.2 L273.2,371.9 L274.2,371.2 L275.0,371.0" stroke="#B9D6F6" stroke-width="4.2"/>
<path d="M37.2,384.4 L38.0,384.8 L39.1,384.8 L40.3,385.4 L41.7,385.3 L43.2,385.7 L44.7,386.6 L46.0,386.6 L47.1,387.4 L48.3,387.9 L49.6,388.5 L50.8,388.6 L51.9,388.8 L53.1,389.7 L54.1,390.2 L55.1,390.4 L56.3,391.1 L57.3,391.7 L58.1,392.3 L59.1,393.8 L60.5,395.4 L61.1,395.5 L61.7,396.6 L62.3,397.7 L62.9,398.5 L63.6,399.4 L64.3,400.6 L65.1,401.7 L65.8,403.3 L66.6,404.4 L67.4,405.6 L68.2,406.0 L69.0,407.5 L69.8,408.4 L70.7,409.1 L71.5,409.3 L72.6,410.3 L73.7,410.7 L74.9,411.5 L76.1,412.5 L77.3,412.4 L78.6,413.0 L79.8,413.3 L81.1,413.9 L82.4,413.8 L83.6,413.4 L84.9,413.1 L86.1,412.8 L86.9,412.1 L87.7,411.4 L88.6,411.1 L89.4,409.9 L90.3,408.8 L91.1,407.6 L91.9,406.8 L92.8,406.0 L93.6,404.8 L94.5,403.3 L95.3,402.8 L96.1,401.7 L96.9,400.1 L97.7,399.6 L98.5,398.4 L99.2,396.9 L100.0,396.1 L100.7,395.8 L101.8,394.7 L102.9,393.5 L103.9,392.1 L104.9,391.2 L105.9,391.0 L106.8,389.7 L107.8,389.0 L108.7,388.2 L109.7,387.8 L110.6,387.1 L111.6,386.2 L112.6,385.9 L113.6,385.3 L114.6,384.7 L115.6,383.2 L116.6,382.9 L117.6,382.1 L118.6,381.5 L119.6,381.4 L120.6,380.7 L121.6,379.4 L122.6,379.4 L123.7,378.8 L124.8,377.9 L125.9,377.2 L127.0,376.9 L128.0,375.8 L129.1,375.0 L130.2,374.3 L131.3,373.8 L132.4,373.7 L133.5,373.2 L134.7,372.5 L135.9,372.5 L137.0,371.3 L138.2,371.6 L139.4,371.3 L140.6,370.9 L141.8,370.9 L143.1,369.8 L144.5,369.9 L145.6,369.8 L146.7,369.5 L147.8,369.2 L149.0,369.3 L150.2,368.6 L151.4,368.6 L152.6,368.2 L153.9,368.0 L155.1,368.2 L156.4,368.7 L157.8,368.6 L159.1,368.5 L160.1,369.0 L161.1,368.9 L162.2,369.5 L163.2,369.7 L164.3,370.1 L165.4,370.7 L166.4,371.2 L167.5,371.7 L168.7,372.0 L169.8,372.8 L170.9,373.7 L172.1,373.9 L173.3,374.4 L174.5,375.1 L175.7,376.2 L176.9,376.9 L177.8,377.5 L178.7,378.4 L179.7,378.5 L180.7,379.7 L181.6,379.9 L182.6,380.9 L183.6,381.4 L184.6,381.9 L185.7,383.4 L186.7,384.2 L187.7,384.2 L188.7,385.6 L189.8,386.4 L190.8,387.4 L191.8,388.1 L192.8,388.5 L193.9,389.3 L194.9,390.1 L195.9,390.8 L196.9,392.1 L197.8,392.1 L198.8,393.3 L199.8,394.3 L200.8,394.7 L201.8,395.4 L202.8,396.7 L203.9,397.2 L204.9,398.7 L205.9,399.1 L206.9,400.0 L207.9,400.6 L208.9,401.8 L209.9,403.0 L210.9,403.8 L211.9,404.4 L212.8,405.4 L213.7,405.7 L214.7,406.8 L215.6,407.2 L216.4,407.7 L217.3,408.9 L218.1,409.1 L218.9,409.7 L220.5,411.0 L222.0,411.4 L223.3,411.8 L224.6,412.3 L225.9,412.8 L227.1,413.1 L228.2,413.7 L229.4,413.5 L230.5,413.4 L231.6,413.2 L232.7,412.9 L233.8,411.9 L234.8,411.4 L235.8,411.0 L236.8,409.9 L237.8,409.3 L238.7,408.2 L239.7,407.0 L240.6,406.3 L241.5,405.2 L242.3,404.2 L243.1,402.9 L243.9,402.1 L244.6,400.8 L245.4,400.2 L246.1,399.2 L246.8,398.5 L247.6,397.5 L248.3,395.8 L249.1,395.7 L249.9,394.4 L250.9,393.3 L251.9,392.4 L253.0,391.9 L254.1,390.8 L255.1,390.7 L256.2,389.9 L257.2,389.3 L258.3,389.2 L259.3,388.2 L260.6,387.6 L261.9,386.9 L263.1,386.7 L264.4,386.2 L265.6,385.4 L266.8,385.3 L267.9,385.4 L269.3,385.1 L270.6,384.8 L272.0,384.4 L273.2,383.8 L274.2,383.2 L275.0,383.4" stroke="#6C9CE6" stroke-width="4.2"/>
<path d="M37.2,394.4 L38.0,394.1 L39.1,394.3 L40.3,394.8 L41.7,394.8 L43.2,395.3 L44.7,395.9 L46.0,396.3 L47.3,396.6 L48.6,396.3 L50.0,397.3 L51.3,397.7 L52.6,397.4 L53.9,398.0 L55.1,399.0 L56.2,399.0 L57.3,399.8 L58.4,400.6 L59.4,401.3 L60.4,402.4 L61.4,402.7 L62.4,403.4 L63.4,404.5 L64.5,405.2 L65.5,406.3 L66.6,406.8 L67.6,407.2 L68.7,408.3 L69.7,408.9 L70.9,408.9 L72.1,409.4 L73.4,409.9 L74.6,410.7 L75.8,410.3 L77.0,410.9 L78.2,410.7 L79.4,410.8 L80.7,410.0 L81.9,410.0 L83.1,409.4 L84.3,409.2 L85.2,408.5 L86.1,408.2 L87.0,407.2 L87.8,406.6 L88.7,405.3 L89.6,404.8 L90.6,403.6 L91.6,402.9 L92.4,402.1 L93.1,400.9 L93.9,399.7 L94.8,398.7 L95.6,397.8 L96.4,397.5 L97.3,396.6 L98.2,395.8 L99.0,394.7 L99.9,393.8 L100.7,393.2 L101.6,391.8 L102.5,390.7 L103.5,390.0 L104.4,389.2 L105.3,388.2 L106.2,387.7 L107.2,386.6 L108.1,386.0 L109.0,385.2 L110.0,384.1 L111.1,383.1 L112.1,382.4 L113.2,382.2 L114.2,381.2 L115.3,380.5 L116.4,379.8 L117.5,379.1 L118.7,378.9 L120.0,378.1 L120.9,377.3 L121.9,376.9 L122.9,376.2 L124.0,375.8 L125.1,374.6 L126.1,374.1 L127.2,373.6 L128.3,372.5 L129.4,371.7 L130.5,372.0 L131.5,370.8 L132.5,370.5 L133.5,370.1 L134.8,369.1 L136.1,369.0 L137.4,368.3 L138.6,367.8 L139.8,367.6 L141.0,367.9 L142.1,367.4 L143.3,367.2 L144.5,366.9 L145.8,366.4 L147.1,366.2 L148.5,366.3 L149.8,365.9 L151.0,366.0 L152.4,366.3 L153.7,366.0 L155.0,365.6 L156.2,366.3 L157.4,366.4 L158.6,366.6 L159.9,366.5 L161.1,366.4 L162.3,366.6 L163.6,367.5 L164.8,367.3 L166.0,368.1 L167.1,368.0 L168.2,368.4 L169.3,368.9 L170.4,369.9 L171.5,370.0 L172.5,371.0 L173.6,371.6 L174.7,371.8 L175.8,372.3 L176.9,373.4 L178.0,373.7 L179.1,374.1 L180.2,375.6 L181.3,375.7 L182.3,376.8 L183.4,377.8 L184.5,378.0 L185.6,379.3 L186.7,379.4 L187.8,380.3 L188.8,381.0 L189.8,382.3 L190.8,383.0 L191.8,383.4 L192.8,384.2 L193.8,385.1 L194.8,386.2 L195.8,387.3 L196.8,388.3 L197.8,388.7 L198.8,389.8 L199.8,390.3 L200.8,391.2 L201.8,392.1 L202.8,393.3 L203.9,394.2 L204.9,394.4 L205.9,395.4 L206.9,396.2 L207.8,397.1 L208.8,398.1 L209.7,399.1 L210.8,399.5 L211.9,401.0 L212.9,401.1 L213.9,402.3 L214.9,403.3 L215.9,403.8 L216.9,405.0 L217.9,405.5 L218.9,405.7 L220.1,406.9 L221.2,407.4 L222.4,408.6 L223.6,408.7 L224.7,409.4 L225.9,410.4 L226.9,410.7 L228.0,411.3 L229.3,412.1 L230.6,412.4 L231.8,412.8 L232.9,412.8 L234.1,412.2 L235.3,412.5 L236.5,412.6 L237.7,412.2 L238.9,411.2 L240.2,411.5 L241.4,410.5 L242.6,409.5 L243.5,409.3 L244.4,408.6 L245.3,407.2 L246.1,406.5 L247.0,405.6 L248.0,404.6 L248.9,403.6 L250.0,402.2 L251.0,401.6 L252.0,401.3 L253.1,400.4 L254.3,399.4 L255.4,398.7 L256.6,398.7 L257.7,397.8 L258.9,396.9 L260.0,396.6 L261.3,395.9 L262.6,395.4 L264.0,395.1 L265.3,395.0 L266.6,394.1 L267.9,394.0 L269.0,393.3 L270.0,393.1 L271.7,393.2 L273.1,392.7 L274.2,392.6 L275.0,392.4" stroke="#2B56A8" stroke-width="4.6"/>
<path d="M37.2,418.7 L37.9,419.6 L38.8,419.9 L39.9,420.8 L41.1,420.8 L42.4,422.3 L43.7,422.4 L45.0,424.2 L45.7,424.4 L46.4,425.9 L47.1,426.0 L47.9,427.3 L48.6,428.3 L49.4,428.7 L50.2,430.2 L51.0,430.7 L51.8,431.7 L52.6,432.8 L53.4,434.4 L54.2,434.8 L55.0,436.3 L55.8,437.1 L56.5,437.7 L57.3,439.1 L58.1,439.9 L58.9,441.1 L59.6,442.2 L60.4,442.9 L61.2,443.5 L62.0,444.8 L62.8,445.4 L63.6,446.2 L64.4,447.5 L65.2,448.4 L66.0,448.8 L67.0,449.6 L68.0,450.6 L69.1,452.3 L70.1,452.6 L71.2,453.4 L72.2,454.4 L73.2,455.7 L74.2,455.8 L75.2,456.7 L76.1,457.6 L77.0,458.0 L78.5,459.2 L79.9,459.3 L81.1,460.0 L82.4,460.1 L83.7,459.6 L85.0,459.4 L86.2,459.6 L87.4,458.9 L88.6,458.6 L89.9,458.0 L91.1,457.1 L92.4,457.0 L93.6,456.5 L94.6,455.5 L95.5,455.0 L96.5,454.3 L97.4,453.4 L98.4,452.1 L99.3,451.7 L100.3,450.8 L101.2,449.6 L102.2,449.4 L103.3,448.8 L104.3,448.1 L105.4,447.5 L106.5,446.1 L107.5,445.7 L108.6,444.9 L109.6,444.4 L110.7,444.0 L111.9,443.7 L113.1,444.1 L114.4,444.0 L115.6,444.0 L116.8,444.5 L118.1,443.9 L119.3,444.4 L120.5,444.4 L121.8,443.6 L123.1,443.5 L124.3,443.4 L125.6,443.9 L126.8,443.3 L127.9,442.9 L129.2,443.1 L130.2,442.9 L131.3,443.0 L132.8,442.9 L135.0,442.6 L135.9,442.4 L136.8,441.7 L137.9,442.0 L139.0,441.3 L140.2,440.8 L141.4,440.2 L142.7,439.7 L144.0,439.7 L145.3,439.2 L146.7,439.3 L148.0,438.0 L149.3,438.0 L150.5,437.4 L151.8,437.1 L152.9,436.7 L154.0,436.5 L155.0,436.9 L156.5,436.2 L157.9,435.9 L159.2,435.5 L160.4,434.9 L161.5,435.4 L162.7,434.7 L163.8,434.8 L164.9,435.2 L166.1,435.4 L167.4,435.0 L168.5,435.2 L169.7,435.4 L170.9,435.8 L172.1,435.2 L173.3,436.3 L174.5,436.3 L175.7,436.6 L176.9,436.9 L178.2,437.1 L179.4,437.5 L180.6,437.4 L181.8,438.1 L183.0,438.1 L184.2,438.7 L185.4,439.3 L186.6,439.9 L187.8,440.2 L189.0,440.6 L190.2,440.9 L191.4,441.5 L192.6,441.1 L193.8,442.0 L195.0,442.2 L196.2,443.4 L197.2,443.9 L198.3,444.0 L199.3,445.2 L200.4,446.1 L201.5,446.4 L202.5,447.5 L203.6,448.7 L204.6,449.2 L205.7,449.8 L206.7,450.5 L207.7,451.1 L208.7,451.9 L209.7,452.5 L210.6,453.5 L211.9,453.9 L213.1,454.9 L214.3,455.4 L215.4,456.3 L216.6,457.4 L217.7,457.2 L218.8,457.6 L219.9,458.3 L220.9,458.3 L222.0,458.6 L223.3,459.3 L224.6,459.8 L225.8,459.9 L227.0,460.1 L228.2,459.8 L229.4,459.6 L230.7,458.8 L232.0,458.1 L232.6,457.4 L233.2,456.5 L233.8,455.6 L234.4,455.2 L235.1,454.0 L235.7,452.6 L236.3,452.0 L237.0,450.3 L237.6,449.4 L238.2,448.6 L238.9,447.0 L239.5,446.2 L240.2,444.4 L240.9,443.6 L241.5,442.0 L242.2,441.1 L242.8,440.4 L243.5,439.3 L244.2,437.8 L244.9,436.4 L245.7,436.2 L246.4,434.9 L247.1,433.2 L247.9,432.2 L248.6,431.9 L249.4,430.8 L250.2,429.6 L250.9,428.6 L251.6,427.7 L252.4,426.5 L253.1,425.9 L253.8,424.6 L254.5,423.9 L255.2,422.9 L255.9,422.8 L257.2,421.6 L258.5,420.8 L259.9,420.0 L261.2,419.4 L262.4,419.1 L263.6,419.0 L264.6,419.3 L265.5,418.6 L266.2,418.5" stroke="#F4B6BC" stroke-width="4.2"/>
<path d="M37.2,427.2 L37.8,427.3 L38.6,427.6 L39.5,428.4 L40.5,429.6 L41.7,429.9 L42.8,431.4 L44.0,432.3 L45.2,432.9 L46.3,433.8 L47.4,435.4 L48.3,436.1 L49.1,436.5 L50.0,437.3 L50.8,438.9 L51.7,439.9 L52.5,440.3 L53.4,441.7 L54.3,442.6 L55.1,443.5 L56.0,444.2 L56.8,445.7 L57.7,446.6 L58.6,447.2 L59.6,448.1 L60.5,449.0 L61.4,450.1 L62.4,450.6 L63.3,451.6 L64.3,452.5 L65.2,453.6 L66.1,454.3 L67.1,454.9 L68.0,455.9 L69.1,456.0 L70.3,457.1 L71.4,457.9 L72.5,458.5 L73.7,459.5 L74.8,459.5 L75.9,460.0 L77.1,460.8 L78.2,461.1 L79.5,461.1 L80.8,461.0 L82.1,460.9 L83.3,461.0 L84.6,460.4 L85.9,460.0 L87.2,459.2 L88.5,458.5 L89.3,457.6 L90.1,457.5 L90.9,456.4 L91.8,455.2 L92.6,454.6 L93.4,453.4 L94.2,451.7 L95.0,451.1 L95.8,450.0 L96.6,448.6 L97.4,447.4 L98.1,446.8 L98.8,446.4 L99.9,445.2 L100.9,443.8 L101.9,442.5 L102.8,441.8 L103.7,440.6 L104.6,439.5 L105.5,438.8 L106.4,438.6 L107.6,437.7 L108.7,437.2 L109.8,436.9 L110.9,436.0 L112.1,436.4 L113.3,435.6 L114.4,435.8 L115.6,435.8 L116.9,435.5 L118.1,434.9 L119.4,435.5 L120.7,435.9 L121.9,435.8 L123.2,436.2 L124.5,436.5 L125.8,436.7 L127.1,436.7 L128.3,437.9 L129.5,438.3 L130.5,438.6 L132.1,438.7 L133.2,438.5 L135.0,438.5 L136.0,438.0 L137.1,438.4 L138.3,437.9 L139.6,437.5 L141.0,436.7 L142.4,435.9 L143.7,435.7 L145.0,435.2 L146.2,435.4 L147.6,434.2 L148.8,434.1 L150.0,433.7 L151.1,433.5 L152.3,433.3 L153.6,433.6 L155.0,432.7 L156.1,432.9 L157.2,432.5 L158.4,432.5 L159.6,431.4 L160.9,431.7 L162.1,431.5 L163.4,430.6 L164.7,430.7 L166.1,430.7 L167.4,431.3 L168.5,431.3 L169.7,431.5 L170.9,431.5 L172.1,431.5 L173.3,432.4 L174.5,432.8 L175.7,432.7 L176.9,433.6 L178.2,433.6 L179.4,434.4 L180.6,434.8 L181.8,435.0 L183.0,435.3 L184.2,435.6 L185.4,436.2 L186.7,436.4 L187.9,436.7 L189.1,437.6 L190.3,437.7 L191.6,438.2 L192.7,438.3 L193.9,438.7 L195.1,439.3 L196.2,440.0 L197.3,440.5 L198.4,441.1 L199.5,442.4 L200.5,442.6 L201.6,444.2 L202.6,444.8 L203.6,445.6 L204.6,446.7 L205.6,447.3 L206.6,448.2 L207.6,449.0 L208.5,449.3 L209.5,450.3 L210.5,451.1 L211.5,451.7 L212.5,453.0 L213.4,453.1 L214.4,454.6 L215.3,454.8 L216.2,455.8 L217.1,456.6 L217.9,457.4 L218.8,457.8 L220.1,458.8 L221.3,459.8 L222.5,460.2 L223.6,461.0 L224.7,461.6 L225.9,461.8 L227.1,462.0 L228.2,462.0 L229.3,461.2 L230.4,461.0 L231.6,460.7 L232.7,460.7 L233.8,459.3 L234.9,458.6 L236.0,457.8 L236.7,456.9 L237.4,456.2 L238.0,455.6 L238.7,454.4 L239.3,454.0 L239.9,452.8 L240.6,451.9 L241.2,450.0 L241.9,449.1 L242.6,447.7 L243.3,447.3 L244.0,446.0 L244.7,445.2 L245.4,443.9 L246.1,443.1 L246.9,441.4 L247.6,440.5 L248.4,439.5 L249.1,438.7 L249.9,437.6 L250.7,436.7 L251.5,435.3 L252.2,434.6 L253.0,434.1 L253.8,433.4 L254.8,432.1 L255.8,431.4 L256.8,430.5 L257.9,430.1 L258.9,428.7 L259.9,428.5 L261.0,428.0 L262.0,427.4 L263.0,426.9 L264.1,427.2 L265.3,426.6 L266.7,426.4 L268.1,426.0 L269.5,425.7 L270.9,425.3 L272.2,425.7 L273.3,425.2 L274.3,425.5 L275.0,425.5" stroke="#EC7A80" stroke-width="4.2"/>
<path d="M37.2,415.7 L37.8,416.8 L38.7,417.4 L39.6,417.4 L40.7,418.8 L41.9,419.2 L43.1,420.3 L44.2,421.5 L45.3,422.7 L46.1,423.7 L46.9,424.8 L47.7,425.3 L48.6,426.3 L49.4,427.7 L50.2,428.2 L51.0,429.6 L51.9,431.1 L52.7,432.0 L53.5,433.0 L54.3,434.4 L55.0,434.9 L55.8,435.9 L56.5,436.8 L57.3,437.9 L58.0,439.0 L58.8,440.6 L59.5,441.7 L60.3,442.0 L61.0,442.9 L61.8,444.7 L62.6,445.3 L63.4,446.2 L64.3,447.2 L65.1,448.3 L65.9,449.2 L66.7,450.6 L67.5,450.7 L68.4,452.2 L69.2,452.7 L70.0,453.3 L71.0,454.1 L72.1,455.7 L73.2,456.6 L74.2,456.8 L75.3,457.6 L76.3,458.7 L77.3,459.3 L78.2,459.4 L79.5,460.4 L80.7,460.2 L81.8,460.7 L83.0,459.9 L84.4,459.3 L85.2,459.4 L86.1,458.4 L87.0,458.2 L87.9,456.7 L88.8,456.6 L89.8,455.1 L90.8,454.2 L91.8,453.8 L92.7,452.5 L93.6,451.8 L94.4,450.6 L95.2,449.8 L96.0,449.0 L96.8,447.5 L97.6,447.1 L98.3,445.8 L99.1,444.8 L99.9,443.4 L100.7,442.7 L101.4,441.8 L102.2,440.5 L103.1,440.2 L103.9,439.3 L104.8,438.1 L105.6,437.2 L106.5,435.8 L107.3,435.6 L108.1,434.9 L109.0,434.0 L109.8,433.2 L110.7,432.2 L111.9,431.3 L113.2,430.9 L114.5,430.2 L115.7,429.7 L117.0,429.3 L118.2,429.2 L119.3,429.2 L120.7,428.2 L121.9,427.8 L123.2,427.7 L124.5,427.3 L126.2,426.9 L127.3,426.9 L128.6,426.3 L129.9,426.6 L131.3,426.7 L132.7,426.3 L134.2,426.2 L135.5,425.9 L136.8,425.8 L138.0,426.0 L139.6,426.2 L141.0,426.4 L142.3,426.3 L143.6,426.7 L144.8,426.3 L146.2,426.7 L147.4,426.7 L148.6,427.0 L149.7,427.1 L150.9,427.7 L152.2,427.9 L153.5,427.8 L155.0,427.4 L156.1,427.5 L157.3,427.8 L158.5,427.4 L159.7,427.7 L161.0,427.6 L162.3,427.6 L163.6,427.5 L164.9,428.0 L166.1,428.0 L167.4,427.6 L168.6,427.8 L169.9,428.1 L171.1,428.9 L172.3,428.7 L173.6,428.9 L174.8,429.0 L176.0,429.7 L177.2,430.2 L178.5,430.6 L179.7,431.2 L180.9,431.5 L182.2,431.8 L183.5,432.1 L184.8,432.2 L186.0,433.0 L187.3,433.2 L188.5,433.7 L189.8,434.1 L190.9,434.2 L192.1,435.3 L193.2,435.2 L194.3,435.9 L195.3,436.9 L196.4,437.5 L197.4,438.1 L198.4,438.8 L199.4,439.8 L200.4,440.2 L201.4,441.7 L202.4,441.9 L203.3,442.6 L204.3,443.5 L205.3,444.8 L206.2,445.9 L207.2,446.8 L208.2,447.0 L209.1,448.3 L210.0,449.1 L211.0,449.6 L211.8,450.9 L212.7,451.2 L213.7,452.8 L214.7,453.7 L215.7,454.5 L216.6,455.2 L217.5,456.1 L218.4,457.0 L219.3,457.3 L220.1,458.4 L220.9,458.3 L222.3,459.2 L223.5,460.2 L224.6,460.6 L225.8,460.7 L227.1,460.6 L228.3,460.7 L229.5,460.6 L230.8,460.1 L232.0,460.3 L233.2,459.1 L234.3,458.7 L235.1,457.9 L235.9,456.7 L236.6,456.0 L237.2,455.0 L237.9,454.1 L238.6,452.4 L239.4,451.5 L239.9,450.6 L240.4,449.8 L241.0,448.2 L241.5,447.1 L242.0,446.4 L242.6,444.6 L243.2,444.1 L243.7,442.3 L244.3,441.8 L245.0,440.3 L245.6,439.2 L246.2,438.5 L246.8,436.8 L247.5,435.7 L248.2,434.9 L248.9,434.1 L249.6,432.3 L250.3,431.9 L251.0,430.7 L251.7,429.6 L252.4,428.9 L253.1,427.8 L253.8,427.2 L254.8,425.6 L255.8,424.8 L256.8,424.2 L257.8,423.4 L258.8,422.2 L259.9,421.5 L261.0,421.0 L262.1,420.7 L263.3,419.9 L264.7,419.3 L266.2,419.2 L267.6,419.1 L269.0,418.0 L270.3,418.4 L271.5,417.8 L272.4,417.4 L274.3,416.6 L275.0,417.0" stroke="#CC1A1A" stroke-width="4.6"/>
<path d="M84.0,510.1 L84.7,509.2 L85.7,508.6 L86.9,508.1 L88.2,507.4 L89.6,506.9 L90.8,505.9 L92.0,505.0 L92.9,503.8 L93.8,503.1 L94.7,502.2 L95.6,501.3 L96.4,500.4 L97.3,498.7 L98.1,497.9 L99.0,497.3 L100.0,496.5 L100.9,494.9 L101.8,493.9 L102.8,493.6 L103.8,492.8 L104.8,491.7 L106.0,491.2 L107.1,491.2 L108.2,490.5 L109.4,490.3 L110.7,490.7 L112.0,490.5 L113.3,490.5 L114.6,490.0 L116.0,490.1 L117.1,490.2 L118.3,489.4 L119.5,489.1 L120.7,489.5 L121.9,488.5 L123.1,488.3 L124.3,488.1 L125.6,488.2 L126.8,487.4 L128.0,487.1 L129.2,487.3 L130.4,487.0 L131.6,486.5 L132.8,486.0 L134.0,486.1 L135.2,485.7 L136.4,485.2 L137.6,484.7 L138.8,484.4 L140.0,484.2 L141.3,484.1 L142.6,483.9 L144.0,483.7 L145.4,483.6 L146.8,483.8 L148.1,483.5 L149.3,483.2 L150.4,483.9 L151.3,483.5 L152.0,483.5" stroke="#C4C4C4" stroke-width="4.2"/>
<path d="M37.2,465.0 L37.9,465.3 L38.8,465.5 L39.8,466.0 L41.0,467.3 L42.3,467.8 L43.6,468.5 L44.9,469.6 L46.2,470.0 L47.4,471.4 L48.3,471.3 L49.1,472.9 L50.0,473.6 L50.8,474.4 L51.7,474.9 L52.5,476.6 L53.4,477.2 L54.3,478.5 L55.1,479.3 L56.0,480.1 L56.8,481.2 L57.7,482.3 L58.5,483.5 L59.3,484.4 L60.1,485.6 L60.9,486.7 L61.8,487.6 L62.6,488.3 L63.4,489.5 L64.2,490.5 L65.0,491.0 L65.8,491.8 L66.5,492.9 L67.3,494.1 L68.0,495.1 L69.0,496.1 L70.0,497.4 L70.9,497.9 L71.8,499.1 L72.7,500.2 L73.5,501.1 L74.4,502.0 L75.3,502.1 L76.2,503.4 L77.4,504.2 L78.5,504.3 L79.6,505.1 L80.7,505.7 L81.9,506.2 L83.1,506.5 L84.4,506.4 L85.4,505.6 L86.4,505.7 L87.4,505.1 L88.5,503.9 L89.5,503.4 L90.6,502.2 L91.7,501.5 L92.7,500.7 L93.7,499.7 L94.7,498.5 L95.5,497.7 L96.3,496.9 L97.1,495.5 L97.9,495.3 L98.6,493.4 L99.3,492.6 L100.1,491.3 L100.8,490.3 L101.5,489.6 L102.3,488.1 L103.0,487.4 L103.9,486.5 L104.8,485.1 L105.6,483.9 L106.4,483.1 L107.3,482.1 L108.2,481.9 L109.1,480.6 L110.1,480.2 L111.2,479.2 L112.2,479.4 L113.3,478.5 L114.4,478.8 L115.5,478.9 L116.7,478.2 L117.9,478.7 L119.2,478.3 L120.6,478.6 L122.0,478.7 L123.5,478.9 L124.6,478.7 L125.7,477.9 L126.9,477.8 L128.2,478.3 L129.4,477.6 L130.8,478.0 L132.1,477.4 L133.4,477.8 L134.8,477.0 L136.1,477.1 L137.4,476.8 L138.6,476.8 L139.9,476.5 L141.0,476.6 L142.1,476.9 L143.6,476.2 L145.1,476.7 L146.4,476.2 L147.7,476.7 L148.9,476.8 L150.1,476.7 L151.3,477.0 L152.5,477.0 L153.8,476.5 L155.0,477.2 L156.3,476.5 L157.5,476.4 L158.7,476.3 L159.9,475.4 L161.1,475.7 L162.3,475.2 L163.5,475.2 L164.8,474.9 L166.1,474.2 L167.4,474.7 L168.5,474.9 L169.7,474.9 L170.9,475.4 L172.1,475.3 L173.3,476.0 L174.5,477.0 L175.7,477.4 L176.9,477.6 L178.2,478.1 L179.4,478.9 L180.6,479.2 L181.8,479.2 L183.0,480.4 L184.2,480.4 L185.5,481.0 L186.8,481.9 L188.0,481.5 L189.3,482.2 L190.5,483.3 L191.7,483.5 L192.9,484.2 L194.0,484.4 L195.1,485.0 L196.2,485.3 L197.5,485.7 L198.8,486.3 L199.9,487.0 L201.1,488.0 L202.1,487.9 L203.2,489.3 L204.3,489.2 L205.4,490.6 L206.5,491.1 L207.3,492.3 L208.1,493.4 L208.9,493.9 L209.7,495.0 L210.5,495.7 L211.3,496.6 L212.0,497.7 L212.8,498.7 L213.6,499.9 L214.4,500.9 L215.2,502.4 L216.0,502.6 L216.8,503.1 L217.9,504.5 L219.1,505.4 L220.2,506.1 L221.3,506.5 L222.5,507.5 L223.6,508.1 L224.8,507.8 L225.9,508.3 L227.1,508.7 L228.3,509.2 L229.6,508.7 L230.9,509.1 L232.2,508.7 L233.5,508.3 L234.7,508.1 L235.9,507.6 L237.0,507.5 L238.0,507.4 L238.9,506.1 L239.7,506.0 L240.3,504.8 L241.0,504.2 L241.6,503.1 L242.1,501.4 L242.7,500.6 L243.3,499.3 L244.0,498.0 L244.5,497.2 L244.9,495.9 L245.4,494.9 L245.8,494.1 L246.2,493.0 L246.7,491.6 L247.1,490.3 L247.6,489.3 L248.1,487.7 L248.6,486.9 L249.2,485.3 L249.8,484.5 L250.5,483.4 L251.2,482.9 L252.0,481.4 L252.8,480.8 L253.7,479.9 L254.5,478.6 L255.4,478.3 L256.4,477.6 L257.3,476.5 L258.3,475.8 L259.2,475.4 L260.2,474.7 L261.2,473.6 L262.1,473.0 L263.3,472.0 L264.5,471.5 L265.9,471.3 L267.2,470.3 L268.6,470.4 L269.9,469.7 L271.2,469.4 L272.4,468.6 L273.4,468.4 L274.3,468.5 L275.0,468.0" stroke="#AEAEAE" stroke-width="4.2"/>
<path d="M37.2,467.7 L37.8,468.4 L38.7,469.0 L39.6,469.5 L40.7,469.6 L41.9,470.6 L43.1,471.2 L44.2,472.2 L45.3,473.2 L46.2,473.4 L47.1,474.5 L48.0,475.5 L48.9,475.8 L49.8,477.2 L50.8,477.9 L51.7,478.9 L52.6,479.4 L53.5,480.6 L54.3,480.7 L55.0,481.8 L55.8,482.8 L56.5,484.1 L57.3,484.6 L58.0,485.4 L58.8,486.3 L59.5,488.1 L60.3,488.5 L61.0,489.5 L61.8,490.5 L62.6,491.7 L63.4,493.1 L64.3,494.2 L65.1,495.1 L65.9,496.4 L66.7,497.0 L67.5,498.4 L68.4,498.7 L69.2,499.9 L70.0,501.1 L70.9,502.0 L71.8,502.6 L72.7,504.1 L73.6,504.3 L74.5,505.3 L75.5,505.8 L76.4,507.1 L77.3,507.4 L78.2,508.3 L79.6,509.0 L81.0,509.1 L82.3,509.5 L83.7,509.9 L85.1,509.6 L86.5,509.0 L87.5,508.3 L88.6,508.4 L89.6,507.8 L90.6,506.5 L91.6,505.6 L92.6,505.2 L93.7,504.0 L94.7,502.9 L95.5,502.3 L96.2,501.2 L97.0,499.8 L97.7,498.9 L98.5,498.0 L99.2,496.4 L100.0,495.4 L100.7,494.3 L101.5,493.0 L102.2,492.3 L103.0,491.5 L104.2,490.5 L105.3,490.0 L106.4,488.9 L107.5,488.5 L108.7,488.1 L109.9,488.1 L111.2,487.6 L112.4,487.5 L113.6,487.0 L114.9,487.1 L116.2,487.5 L117.5,487.8 L118.9,487.2 L120.2,487.6 L121.5,487.4 L122.8,487.1 L124.1,487.1 L125.4,486.4 L126.7,486.4 L127.9,486.0 L129.2,485.0 L130.5,484.5 L131.8,484.2 L133.1,483.9 L134.3,484.0 L135.5,483.4 L136.8,482.6 L138.0,482.2 L139.3,481.7 L140.7,481.5 L142.1,481.3 L143.3,480.7 L144.5,480.7 L145.8,481.0 L147.1,480.6 L148.4,481.0 L149.8,481.0 L151.1,481.4 L152.4,481.0 L153.7,480.6 L155.0,480.7 L156.3,481.2 L157.5,481.2 L158.8,480.6 L160.0,480.8 L161.2,480.5 L162.5,480.3 L163.7,480.2 L164.9,480.2 L166.2,480.2 L167.4,480.2 L168.6,480.9 L169.9,481.0 L171.1,481.2 L172.3,481.5 L173.6,481.8 L174.8,482.8 L176.0,483.0 L177.2,483.6 L178.5,484.4 L179.7,484.4 L180.9,485.0 L182.2,485.2 L183.5,485.6 L184.8,485.1 L186.0,485.7 L187.3,486.0 L188.5,486.4 L189.8,485.7 L190.9,486.4 L192.1,486.3 L193.5,486.5 L194.9,486.6 L196.2,487.2 L197.5,487.2 L198.8,487.4 L200.0,487.6 L201.2,487.7 L202.4,488.6 L203.4,488.9 L204.4,489.5 L205.3,490.5 L206.2,491.9 L207.1,492.6 L207.9,493.5 L208.8,494.5 L209.7,496.2 L210.6,497.0 L211.5,498.1 L212.4,498.3 L213.3,499.9 L214.2,500.6 L215.1,501.7 L216.1,502.7 L217.0,503.4 L217.9,504.0 L218.8,505.2 L220.0,505.6 L221.2,505.9 L222.4,507.0 L223.5,506.5 L224.7,507.2 L225.9,507.2 L227.1,507.2 L228.3,507.3 L229.5,506.6 L230.7,506.3 L231.9,506.0 L233.1,505.6 L234.2,504.3 L235.3,504.2 L236.3,503.5 L237.2,502.7 L238.1,501.6 L238.9,500.4 L239.8,498.8 L240.6,498.0 L241.5,497.2 L242.1,496.1 L242.7,494.5 L243.3,493.7 L243.9,493.0 L244.5,491.6 L245.1,491.0 L245.7,489.3 L246.3,488.7 L247.0,487.2 L247.7,486.9 L248.4,485.3 L249.2,484.4 L250.0,483.2 L250.8,482.6 L251.7,481.2 L252.5,480.3 L253.4,479.6 L254.2,478.5 L255.1,478.3 L255.9,477.0 L256.9,476.1 L257.9,475.3 L259.0,474.7 L260.0,474.1 L261.0,473.9 L262.0,473.8 L263.1,472.9 L264.1,472.5 L265.2,471.4 L266.3,470.4 L267.5,470.1 L268.6,468.6 L269.7,468.3 L270.7,466.7 L271.6,466.7 L272.4,465.6 L274.2,464.8 L275.0,464.5" stroke="#323232" stroke-width="4.6"/>
</g>
<polygon points="247.40,315.80 242.65,325.00 252.15,325.00" fill="#ff1a1a"/>
<polygon points="242.60,363.30 237.85,371.80 247.35,371.80" fill="#ff1a1a"/>
<polygon points="238.00,420.30 233.25,428.10 242.75,428.10" fill="#ff1a1a"/>
<polygon points="231.80,468.10 227.05,476.70 236.55,476.70" fill="#ff1a1a"/>
<polygon points="227.50,510.20 222.75,518.70 232.25,518.70" fill="#ff1a1a"/>
<g fill="none" stroke-linecap="round" stroke-linejoin="round" clip-path="url(#pc)">
<path d="M370.50,265.70 C371.77,265.73 374.63,265.78 378.10,265.90 C381.57,266.02 386.92,266.58 391.30,266.40 C395.68,266.22 400.02,266.17 404.40,264.80 C408.78,263.43 413.22,260.83 417.60,258.20 C421.98,255.57 426.42,251.95 430.70,249.00 C434.98,246.05 440.83,242.67 443.30,240.50 C445.77,238.33 444.80,237.58 445.50,236.00 C446.20,234.42 446.67,232.30 447.50,231.00 C448.33,229.70 449.25,228.83 450.50,228.20 C451.75,227.57 452.08,227.43 455.00,227.20 C457.92,226.97 462.17,226.90 468.00,226.80 C473.83,226.70 482.67,226.60 490.00,226.60 C497.33,226.60 506.17,226.70 512.00,226.80 C517.83,226.90 522.08,226.97 525.00,227.20 C527.92,227.43 528.25,227.57 529.50,228.20 C530.75,228.83 531.67,229.70 532.50,231.00 C533.33,232.30 533.80,234.42 534.50,236.00 C535.20,237.58 534.23,238.33 536.70,240.50 C539.17,242.67 545.02,246.05 549.30,249.00 C553.58,251.95 558.02,255.57 562.40,258.20 C566.78,260.83 571.22,263.43 575.60,264.80 C579.98,266.17 584.32,266.22 588.70,266.40 C593.08,266.58 598.43,266.02 601.90,265.90 C605.37,265.78 608.23,265.73 609.50,265.70" stroke="#C99B2E" stroke-width="4.1"/>
<path d="M370.50,311.00 C371.77,311.08 374.63,311.13 378.10,311.50 C381.57,311.87 387.82,312.85 391.30,313.20 C394.78,313.55 396.82,313.82 399.00,313.60 C401.18,313.38 402.40,313.17 404.40,311.90 C406.40,310.63 408.80,308.18 411.00,306.00 C413.20,303.82 415.43,300.98 417.60,298.80 C419.77,296.62 421.82,294.65 424.00,292.90 C426.18,291.15 428.53,289.62 430.70,288.30 C432.87,286.98 435.20,285.78 437.00,285.00 C438.80,284.22 440.25,283.72 441.50,283.60 C442.75,283.48 443.67,284.90 444.50,284.30 C445.33,283.70 445.67,281.22 446.50,280.00 C447.33,278.78 448.08,277.87 449.50,277.00 C450.92,276.13 451.58,275.22 455.00,274.80 C458.42,274.38 464.17,274.67 470.00,274.50 C475.83,274.33 483.33,273.80 490.00,273.80 C496.67,273.80 504.17,274.33 510.00,274.50 C515.83,274.67 521.58,274.38 525.00,274.80 C528.42,275.22 529.08,276.13 530.50,277.00 C531.92,277.87 532.67,278.78 533.50,280.00 C534.33,281.22 534.67,283.70 535.50,284.30 C536.33,284.90 537.25,283.48 538.50,283.60 C539.75,283.72 541.20,284.22 543.00,285.00 C544.80,285.78 547.13,286.98 549.30,288.30 C551.47,289.62 553.82,291.15 556.00,292.90 C558.18,294.65 560.23,296.62 562.40,298.80 C564.57,300.98 566.80,303.82 569.00,306.00 C571.20,308.18 573.60,310.63 575.60,311.90 C577.60,313.17 578.82,313.38 581.00,313.60 C583.18,313.82 585.22,313.55 588.70,313.20 C592.18,312.85 598.43,311.87 601.90,311.50 C605.37,311.13 608.23,311.08 609.50,311.00" stroke="#AF70EE" stroke-width="4.1"/>
<path d="M370.50,352.00 C371.77,352.18 375.68,352.77 378.10,353.10 C380.52,353.43 382.80,353.42 385.00,354.00 C387.20,354.58 388.63,355.43 391.30,356.60 C393.97,357.77 398.82,360.33 401.00,361.00 C403.18,361.67 402.73,361.33 404.40,360.60 C406.07,359.87 408.80,359.02 411.00,356.60 C413.20,354.18 415.43,349.27 417.60,346.10 C419.77,342.93 421.82,340.12 424.00,337.60 C426.18,335.08 428.53,332.72 430.70,331.00 C432.87,329.28 435.12,328.07 437.00,327.30 C438.88,326.53 440.75,326.37 442.00,326.40 C443.25,326.43 443.58,327.90 444.50,327.50 C445.42,327.10 445.75,324.83 447.50,324.00 C449.25,323.17 450.42,322.82 455.00,322.50 C459.58,322.18 469.17,322.25 475.00,322.10 C480.83,321.95 485.00,321.60 490.00,321.60 C495.00,321.60 499.17,321.95 505.00,322.10 C510.83,322.25 520.42,322.18 525.00,322.50 C529.58,322.82 530.75,323.17 532.50,324.00 C534.25,324.83 534.58,327.10 535.50,327.50 C536.42,327.90 536.75,326.43 538.00,326.40 C539.25,326.37 541.12,326.53 543.00,327.30 C544.88,328.07 547.13,329.28 549.30,331.00 C551.47,332.72 553.82,335.08 556.00,337.60 C558.18,340.12 560.23,342.93 562.40,346.10 C564.57,349.27 566.80,354.18 569.00,356.60 C571.20,359.02 573.93,359.87 575.60,360.60 C577.27,361.33 576.82,361.67 579.00,361.00 C581.18,360.33 586.03,357.77 588.70,356.60 C591.37,355.43 592.80,354.58 595.00,354.00 C597.20,353.42 599.48,353.43 601.90,353.10 C604.32,352.77 608.23,352.18 609.50,352.00" stroke="#4EB86A" stroke-width="4.1"/>
<path d="M370.50,384.30 C371.77,384.52 375.68,385.15 378.10,385.60 C380.52,386.05 382.80,386.45 385.00,387.00 C387.20,387.55 389.15,387.60 391.30,388.90 C393.45,390.20 395.72,392.62 397.90,394.80 C400.08,396.98 402.72,399.77 404.40,402.00 C406.08,404.23 406.90,407.65 408.00,408.20 C409.10,408.75 409.40,407.97 411.00,405.30 C412.60,402.63 415.43,396.47 417.60,392.20 C419.77,387.93 421.82,382.98 424.00,379.70 C426.18,376.42 428.53,374.12 430.70,372.50 C432.87,370.88 435.12,370.43 437.00,370.00 C438.88,369.57 440.75,369.65 442.00,369.90 C443.25,370.15 443.58,371.48 444.50,371.50 C445.42,371.52 445.75,370.17 447.50,370.00 C449.25,369.83 452.58,370.08 455.00,370.50 C457.42,370.92 459.83,372.07 462.00,372.50 C464.17,372.93 465.00,373.17 468.00,373.10 C471.00,373.03 476.33,372.32 480.00,372.10 C483.67,371.88 486.67,371.80 490.00,371.80 C493.33,371.80 496.33,371.88 500.00,372.10 C503.67,372.32 509.00,373.03 512.00,373.10 C515.00,373.17 515.83,372.93 518.00,372.50 C520.17,372.07 522.58,370.92 525.00,370.50 C527.42,370.08 530.75,369.83 532.50,370.00 C534.25,370.17 534.58,371.52 535.50,371.50 C536.42,371.48 536.75,370.15 538.00,369.90 C539.25,369.65 541.12,369.57 543.00,370.00 C544.88,370.43 547.13,370.88 549.30,372.50 C551.47,374.12 553.82,376.42 556.00,379.70 C558.18,382.98 560.23,387.93 562.40,392.20 C564.57,396.47 567.40,402.63 569.00,405.30 C570.60,407.97 570.90,408.75 572.00,408.20 C573.10,407.65 573.92,404.23 575.60,402.00 C577.28,399.77 579.92,396.98 582.10,394.80 C584.28,392.62 586.55,390.20 588.70,388.90 C590.85,387.60 592.80,387.55 595.00,387.00 C597.20,386.45 599.48,386.05 601.90,385.60 C604.32,385.15 608.23,384.52 609.50,384.30" stroke="#3B71E4" stroke-width="4.1"/>
<path d="M370.50,421.80 C371.77,421.85 375.68,421.98 378.10,422.10 C380.52,422.22 382.80,422.00 385.00,422.50 C387.20,423.00 389.13,423.90 391.30,425.10 C393.47,426.30 395.82,427.73 398.00,429.70 C400.18,431.67 402.57,434.27 404.40,436.90 C406.23,439.53 407.57,442.40 409.00,445.50 C410.43,448.60 411.57,455.28 413.00,455.50 C414.43,455.72 416.35,450.43 417.60,446.80 C418.85,443.17 419.43,437.42 420.50,433.70 C421.57,429.98 422.30,427.03 424.00,424.50 C425.70,421.97 428.53,419.72 430.70,418.50 C432.87,417.28 435.12,417.42 437.00,417.20 C438.88,416.98 440.75,416.90 442.00,417.20 C443.25,417.50 443.58,418.93 444.50,419.00 C445.42,419.07 446.25,417.85 447.50,417.60 C448.75,417.35 449.58,416.97 452.00,417.50 C454.42,418.03 458.67,419.72 462.00,420.80 C465.33,421.88 469.00,423.23 472.00,424.00 C475.00,424.77 477.00,425.17 480.00,425.40 C483.00,425.63 486.67,425.40 490.00,425.40 C493.33,425.40 497.00,425.63 500.00,425.40 C503.00,425.17 505.00,424.77 508.00,424.00 C511.00,423.23 514.67,421.88 518.00,420.80 C521.33,419.72 525.58,418.03 528.00,417.50 C530.42,416.97 531.25,417.35 532.50,417.60 C533.75,417.85 534.58,419.07 535.50,419.00 C536.42,418.93 536.75,417.50 538.00,417.20 C539.25,416.90 541.12,416.98 543.00,417.20 C544.88,417.42 547.13,417.28 549.30,418.50 C551.47,419.72 554.30,421.97 556.00,424.50 C557.70,427.03 558.43,429.98 559.50,433.70 C560.57,437.42 561.15,443.17 562.40,446.80 C563.65,450.43 565.57,455.72 567.00,455.50 C568.43,455.28 569.57,448.60 571.00,445.50 C572.43,442.40 573.77,439.53 575.60,436.90 C577.43,434.27 579.82,431.67 582.00,429.70 C584.18,427.73 586.53,426.30 588.70,425.10 C590.87,423.90 592.80,423.00 595.00,422.50 C597.20,422.00 599.48,422.22 601.90,422.10 C604.32,421.98 608.23,421.85 609.50,421.80" stroke="#EE3339" stroke-width="4.1"/>
<path d="M370.50,465.80 C372.08,465.72 376.75,465.22 380.00,465.30 C383.25,465.38 386.67,465.78 390.00,466.30 C393.33,466.82 397.33,467.45 400.00,468.40 C402.67,469.35 404.33,470.63 406.00,472.00 C407.67,473.37 408.83,474.47 410.00,476.60 C411.17,478.73 412.17,481.88 413.00,484.80 C413.83,487.72 414.33,490.98 415.00,494.10 C415.67,497.22 416.33,502.82 417.00,503.50 C417.67,504.18 418.33,501.48 419.00,498.20 C419.67,494.92 420.33,487.73 421.00,483.80 C421.67,479.87 422.17,477.08 423.00,474.60 C423.83,472.12 424.83,470.37 426.00,468.90 C427.17,467.43 427.67,466.65 430.00,465.80 C432.33,464.95 437.92,464.12 440.00,463.80 C442.08,463.48 441.75,463.65 442.50,463.90 C443.25,464.15 443.67,465.28 444.50,465.30 C445.33,465.32 445.25,464.08 447.50,464.00 C449.75,463.92 454.25,464.45 458.00,464.80 C461.75,465.15 466.33,465.55 470.00,466.10 C473.67,466.65 476.67,467.55 480.00,468.10 C483.33,468.65 486.67,469.40 490.00,469.40 C493.33,469.40 496.67,468.65 500.00,468.10 C503.33,467.55 506.33,466.65 510.00,466.10 C513.67,465.55 518.25,465.15 522.00,464.80 C525.75,464.45 530.25,463.92 532.50,464.00 C534.75,464.08 534.67,465.32 535.50,465.30 C536.33,465.28 536.75,464.15 537.50,463.90 C538.25,463.65 537.92,463.48 540.00,463.80 C542.08,464.12 547.67,464.95 550.00,465.80 C552.33,466.65 552.83,467.43 554.00,468.90 C555.17,470.37 556.17,472.12 557.00,474.60 C557.83,477.08 558.33,479.87 559.00,483.80 C559.67,487.73 560.33,494.92 561.00,498.20 C561.67,501.48 562.33,504.18 563.00,503.50 C563.67,502.82 564.33,497.22 565.00,494.10 C565.67,490.98 566.17,487.72 567.00,484.80 C567.83,481.88 568.83,478.73 570.00,476.60 C571.17,474.47 572.33,473.37 574.00,472.00 C575.67,470.63 577.33,469.35 580.00,468.40 C582.67,467.45 586.67,466.82 590.00,466.30 C593.33,465.78 596.75,465.38 600.00,465.30 C603.25,465.22 607.92,465.72 609.50,465.80" stroke="#4A4A4A" stroke-width="4.1"/>
</g>
<polygon points="581.80,318.50 577.05,327.70 586.55,327.70" fill="#ff1a1a"/>
<polygon points="577.20,367.20 572.45,375.70 581.95,375.70" fill="#ff1a1a"/>
<polygon points="572.30,414.50 567.55,422.80 577.05,422.80" fill="#ff1a1a"/>
<polygon points="566.30,460.50 561.55,468.50 571.05,468.50" fill="#ff1a1a"/>
<polygon points="561.60,508.40 556.85,517.40 566.35,517.40" fill="#ff1a1a"/>
<polygon points="286.50,209.20 291.70,206.20 291.70,212.20" fill="#7E651B"/>
<polygon points="289.30,223.90 292.60,227.20 289.30,230.50 286.00,227.20" fill="#7B24DE"/>
<polygon points="286.30,243.80 292.30,243.80 289.30,249.20" fill="#2E7C48"/>
<polygon points="289.30,261.40 292.30,266.80 286.30,266.80" fill="#2B56A8"/>
<circle cx="289.30" cy="282.00" r="2.7" fill="#C81F1F"/>
<rect x="286.80" y="298.20" width="5" height="5" fill="#353535"/>
<line x1="620" y1="208.40" x2="652.6" y2="208.40" stroke="#C99B2E" stroke-width="3.6" stroke-linecap="round"/>
<line x1="620" y1="226.20" x2="652.6" y2="226.20" stroke="#AF70EE" stroke-width="3.6" stroke-linecap="round"/>
<line x1="620" y1="244.70" x2="652.6" y2="244.70" stroke="#4EB86A" stroke-width="3.6" stroke-linecap="round"/>
<line x1="620" y1="263.10" x2="652.6" y2="263.10" stroke="#3B71E4" stroke-width="3.6" stroke-linecap="round"/>
<line x1="620" y1="281.20" x2="652.6" y2="281.20" stroke="#EE3339" stroke-width="3.6" stroke-linecap="round"/>
<line x1="620" y1="299.60" x2="652.6" y2="299.60" stroke="#4A4A4A" stroke-width="3.6" stroke-linecap="round"/>
<g fill="#000000">
<text x="3.00" y="19.30" font-size="24.00" font-weight="bold" text-anchor="start" textLength="26.2" lengthAdjust="spacingAndGlyphs" >(a)</text>
<text x="3.00" y="180.20" font-size="24.00" font-weight="bold" text-anchor="start" textLength="27.9" lengthAdjust="spacingAndGlyphs" >(b)</text>
<text x="338.60" y="180.20" font-size="24.00" font-weight="bold" text-anchor="start" textLength="24.3" lengthAdjust="spacingAndGlyphs" >(c)</text>
<text x="31.75" y="40.70" font-size="19.80" font-weight="normal" text-anchor="start" textLength="47.3" lengthAdjust="spacingAndGlyphs" >0 nm</text>
<text x="146.05" y="40.70" font-size="19.80" font-weight="normal" text-anchor="start" textLength="47.3" lengthAdjust="spacingAndGlyphs" >5 nm</text>
<text x="254.90" y="40.70" font-size="19.80" font-weight="normal" text-anchor="start" textLength="58.2" lengthAdjust="spacingAndGlyphs" >10 nm</text>
<text x="369.20" y="40.70" font-size="19.80" font-weight="normal" text-anchor="start" textLength="58.2" lengthAdjust="spacingAndGlyphs" >15 nm</text>
<text x="483.20" y="40.70" font-size="19.80" font-weight="normal" text-anchor="start" textLength="58.2" lengthAdjust="spacingAndGlyphs" >20 nm</text>
<text x="597.40" y="40.70" font-size="19.80" font-weight="normal" text-anchor="start" textLength="58.2" lengthAdjust="spacingAndGlyphs" >25 nm</text>
<text x="103.30" y="194.10" font-size="19.50" font-weight="normal" text-anchor="start" textLength="103.6" lengthAdjust="spacingAndGlyphs" >Experiment</text>
<text x="433.90" y="195.50" font-size="19.50" font-weight="normal" text-anchor="start" textLength="96.5" lengthAdjust="spacingAndGlyphs" >Simulation</text>
<text transform="translate(21.6,402.4) rotate(-90)" font-size="20" textLength="94.2" lengthAdjust="spacingAndGlyphs">Reflection</text>
<text transform="translate(354.3,402.4) rotate(-90)" font-size="20" textLength="94.2" lengthAdjust="spacingAndGlyphs">Reflection</text>
<text x="7.85" y="545.90" font-size="18.40" font-weight="normal" text-anchor="start" textLength="39.3" lengthAdjust="spacingAndGlyphs" >-180</text>
<text x="54.15" y="545.90" font-size="18.40" font-weight="normal" text-anchor="start" textLength="39.7" lengthAdjust="spacingAndGlyphs" >-120</text>
<text x="101.30" y="545.90" font-size="18.40" font-weight="normal" text-anchor="start" textLength="27.8" lengthAdjust="spacingAndGlyphs" >-60</text>
<text x="151.90" y="545.90" font-size="18.40" font-weight="normal" text-anchor="start" textLength="9.4" lengthAdjust="spacingAndGlyphs" >0</text>
<text x="183.20" y="545.90" font-size="18.40" font-weight="normal" text-anchor="start" textLength="22.2" lengthAdjust="spacingAndGlyphs" >60</text>
<text x="217.95" y="545.90" font-size="18.40" font-weight="normal" text-anchor="start" textLength="31.9" lengthAdjust="spacingAndGlyphs" >120</text>
<text x="258.05" y="545.90" font-size="18.40" font-weight="normal" text-anchor="start" textLength="31.9" lengthAdjust="spacingAndGlyphs" >180</text>
<text x="339.90" y="545.90" font-size="18.40" font-weight="normal" text-anchor="start" textLength="39.4" lengthAdjust="spacingAndGlyphs" >-180</text>
<text x="386.90" y="545.90" font-size="18.40" font-weight="normal" text-anchor="start" textLength="39.4" lengthAdjust="spacingAndGlyphs" >-120</text>
<text x="434.00" y="545.90" font-size="18.40" font-weight="normal" text-anchor="start" textLength="27.4" lengthAdjust="spacingAndGlyphs" >-60</text>
<text x="484.45" y="545.90" font-size="18.40" font-weight="normal" text-anchor="start" textLength="9.3" lengthAdjust="spacingAndGlyphs" >0</text>
<text x="516.10" y="545.90" font-size="18.40" font-weight="normal" text-anchor="start" textLength="21.0" lengthAdjust="spacingAndGlyphs" >60</text>
<text x="549.95" y="545.90" font-size="18.40" font-weight="normal" text-anchor="start" textLength="32.1" lengthAdjust="spacingAndGlyphs" >120</text>
<text x="589.10" y="545.90" font-size="18.40" font-weight="normal" text-anchor="start" textLength="31.6" lengthAdjust="spacingAndGlyphs" >180</text>
<text x="59.90" y="573.70" font-size="19.00" font-weight="normal" text-anchor="start" textLength="190.4" lengthAdjust="spacingAndGlyphs" >Azimuthal angle ϕ (<tspan font-size="14" dy="-2">˚</tspan><tspan dy="2">)</tspan></text>
<text x="394.00" y="573.70" font-size="19.00" font-weight="normal" text-anchor="start" textLength="189.2" lengthAdjust="spacingAndGlyphs" >Azimuthal angle ϕ (<tspan font-size="14" dy="-2">˚</tspan><tspan dy="2">)</tspan></text>
<text x="298.80" y="215.80" font-size="18.00" font-weight="normal" text-anchor="start" textLength="20.7" lengthAdjust="spacingAndGlyphs" >25</text>
<text x="661.70" y="215.80" font-size="18.00" font-weight="normal" text-anchor="start" textLength="20.7" lengthAdjust="spacingAndGlyphs" >25</text>
<text x="298.80" y="233.50" font-size="18.00" font-weight="normal" text-anchor="start" textLength="20.7" lengthAdjust="spacingAndGlyphs" >20</text>
<text x="661.70" y="233.50" font-size="18.00" font-weight="normal" text-anchor="start" textLength="20.7" lengthAdjust="spacingAndGlyphs" >20</text>
<text x="298.80" y="250.30" font-size="18.00" font-weight="normal" text-anchor="start" textLength="20.7" lengthAdjust="spacingAndGlyphs" >15</text>
<text x="661.70" y="250.30" font-size="18.00" font-weight="normal" text-anchor="start" textLength="20.7" lengthAdjust="spacingAndGlyphs" >15</text>
<text x="298.80" y="267.50" font-size="18.00" font-weight="normal" text-anchor="start" textLength="20.7" lengthAdjust="spacingAndGlyphs" >10</text>
<text x="661.70" y="267.50" font-size="18.00" font-weight="normal" text-anchor="start" textLength="20.7" lengthAdjust="spacingAndGlyphs" >10</text>
<text x="298.80" y="284.40" font-size="18.00" font-weight="normal" text-anchor="start" textLength="10.2" lengthAdjust="spacingAndGlyphs" >5</text>
<text x="661.70" y="284.40" font-size="18.00" font-weight="normal" text-anchor="start" textLength="10.2" lengthAdjust="spacingAndGlyphs" >5</text>
<text x="298.80" y="301.70" font-size="18.00" font-weight="normal" text-anchor="start" textLength="10.2" lengthAdjust="spacingAndGlyphs" >0</text>
<text x="661.70" y="301.70" font-size="18.00" font-weight="normal" text-anchor="start" textLength="10.2" lengthAdjust="spacingAndGlyphs" >0</text>
</g>
</svg>
</body></html>
